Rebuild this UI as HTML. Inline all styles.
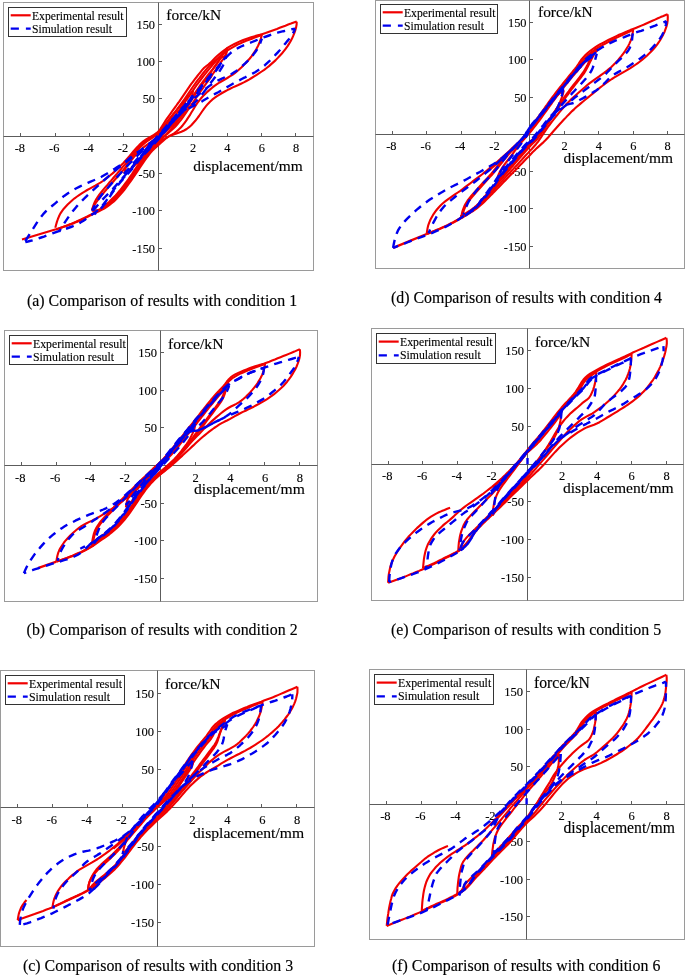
<!DOCTYPE html>
<html lang="en"><head><meta charset="utf-8"><title>Comparison of results</title>
<style>html,body{margin:0;padding:0;background:#fff}svg{display:block;will-change:transform}</style></head>
<body>
<svg width="685" height="975" viewBox="0 0 685 975" font-family="'Liberation Serif', 'Times New Roman', serif">
<rect width="685" height="975" fill="#fff"/>
<g id="panel-a">
<clipPath id="cpa"><rect x="3.5" y="2.5" width="310" height="268"/></clipPath>
<g fill="none" stroke="#5c5c5c" stroke-width="1">
<rect x="3.5" y="2.5" width="310" height="268" stroke="#9a9a9a"/>
<path d="M3.5 136.5H313.5M158.5 2.5V270.5"/>
<path d="M20.5 136.5v-3.5M55.5 136.5v-3.5M89.5 136.5v-3.5M123.5 136.5v-3.5M192.5 136.5v-3.5M227.5 136.5v-3.5M261.5 136.5v-3.5M295.5 136.5v-3.5M158.5 248.5h3.5M158.5 210.5h3.5M158.5 173.5h3.5M158.5 98.5h3.5M158.5 61.5h3.5M158.5 24.5h3.5"/>
</g>
<g font-size="12.36" fill="#000" stroke="#000" stroke-width="0.12">
<text x="19.8" y="152.2" text-anchor="middle">-8</text>
<text x="54.2" y="152.2" text-anchor="middle">-6</text>
<text x="88.6" y="152.2" text-anchor="middle">-4</text>
<text x="123" y="152.2" text-anchor="middle">-2</text>
<text x="193" y="152.2" text-anchor="middle">2</text>
<text x="227.4" y="152.2" text-anchor="middle">4</text>
<text x="261.8" y="152.2" text-anchor="middle">6</text>
<text x="296.2" y="152.2" text-anchor="middle">8</text>
<text x="155" y="252.5" text-anchor="end">-150</text>
<text x="155" y="215.2" text-anchor="end">-100</text>
<text x="155" y="177.9" text-anchor="end">-50</text>
<text x="155" y="103.3" text-anchor="end">50</text>
<text x="155" y="66" text-anchor="end">100</text>
<text x="155" y="28.7" text-anchor="end">150</text>
</g>
<g font-size="15.42" fill="#000" stroke="#000" stroke-width="0.15">
<text x="166.3" y="20.2">force/kN</text>
<text x="193.2" y="171.3">displacement/mm</text>
</g>
<g clip-path="url(#cpa)" fill="none" stroke-linejoin="round" stroke-linecap="butt">
<path d="M22 239.5L38.5 234.5L56 229.2" stroke="#f00000" stroke-width="2.2"/>
<path d="M55.3 227.7L56.1 224.8L56.9 221.9L57.9 219L59 216.3L60.3 213.6L62 211.1L63.8 208.7L65.8 206.5L67.9 204.3L70.1 202.2L72.3 200.2L74.6 198.3L77.1 196.5L79.5 194.8L82.1 193.1L84.6 191.6L87.2 190L89.8 188.6L92.5 187.1L95.2 185.7L97.8 184.2L100.4 182.7L102.9 181L105.3 179.2L107.6 177.4L110 175.5L112.3 173.6L114.6 171.6L116.8 169.5L119 167.4L121.1 165.3L123.2 163.2L125.2 160.9L127.2 158.7L129.2 156.4L131.1 154.1L133.1 151.8L135.1 149.5L137.1 147.3L139.2 145.1L141.3 143L143.6 141.1L146.1 139.4L148.7 137.8L151.3 136.3L153.9 134.8L156.4 133.2L158.6 131.3L160.4 128.9L162 126.4L163.6 123.8L165.2 121.2L166.9 118.7L168.6 116.3L170.4 113.8L172.1 111.4L173.9 108.9L175.7 106.5L177.4 104L179.2 101.6L180.9 99.1L182.6 96.6L184.3 94.1L186 91.7L187.7 89.2L189.4 86.7L191.1 84.2L192.9 81.8L194.7 79.4L196.6 77L198.4 74.6L200.3 72.3L202.2 69.9L204.2 67.7L206.3 66L208.6 64.4L210.8 62.4L212.9 60.2L215 58.1L217.1 56L219.4 54L221.8 52.1L224.1 50.3L226.6 48.5L229.1 46.9L231.7 45.4L234.4 44L237.1 42.7L239.8 41.4L242.6 40.3L245.4 39.2L248.3 38.2L251.1 37.3L254 36.4L256.9 35.6L259.8 34.8L262.7 33.9L265.6 33L268.4 32L271.2 31L274.1 29.9L276.9 28.9L279.7 27.8L282.5 26.7L285.4 25.7L288.2 24.6L291 23.6L293.8 22.5L296.7 21.6" stroke="#f00000" stroke-width="2.1"/>
<path d="M296.7 21.6L296.6 24.5L296.1 27.4L295.3 30.3L294.3 33.1L293.2 35.9L292 38.6L290.6 41.3L289 43.9L287.4 46.4L285.6 48.8L283.8 51.2L281.9 53.5L279.8 55.7L277.8 57.9L275.7 60.1L273.5 62.1L271.2 64.1L269 66.1L266.6 68L264.2 69.8L261.7 71.5L259.2 73.2L256.7 74.8L254.2 76.4L251.6 78L249 79.6L246.4 81L243.8 82.4L241 83.7L238.3 85L235.5 86.2L232.8 87.4L230.1 88.7L227.4 90.1L224.8 91.5L222.1 93L219.5 94.6L217 96.2L214.5 97.9L212.2 99.7L210 101.8L207.9 103.9L206 106.2L204.1 108.6L202.4 111L200.7 113.5L199 116L197.2 118.4L195.3 120.8L193.3 123L191.3 125.2L189.1 127.2L186.7 129L184.1 130.5L181.4 131.8L178.6 132.8L175.8 133.8L172.9 134.7L170.1 135.7L167.6 137.1L165.2 138.9L163 140.9L160.7 142.9L158.5 144.9L156.3 146.9L154.1 149L152 151.1L150 153.4L148.2 155.8L146.4 158.2L144.6 160.6L142.9 163.1L141.2 165.6L139.5 168.1L137.9 170.6L136.2 173.1L134.5 175.6L132.8 178.1L131.1 180.6L129.4 183L127.6 185.5L125.8 187.9L124 190.3L122.1 192.6L120.1 194.9L118.1 197.1L116.1 199.3L113.9 201.4L111.6 203.3L109.2 205.2L106.8 206.9L104.2 208.5L101.6 209.9L98.9 211.2L96.2 212.6L93.4 213.9L90.7 215.2L88.1 216.6L85.4 217.9L82.7 219.3L80 220.5L77.2 221.7L74.4 222.9L71.6 224L68.8 225.1L66 226.1L63.1 227.1L60.3 228.1L57.4 229L56 229.5" stroke="#f00000" stroke-width="2.1"/>
<path d="M130.9 155.7L132.9 153.4L134.8 151.2L136.8 148.9L138.9 146.7L141 144.6L143.3 142.6L145.7 140.8L148.2 139.1L150.8 137.6L153.5 136.2L156.2 134.8L158.9 133.4L161.3 131.8L163.4 129.8L165.1 127.3L166.6 124.7L168.2 122.2L169.9 119.6L171.6 117.1L173.3 114.7L175.1 112.2L176.9 109.8L178.6 107.3L180.4 104.9L182.2 102.4L183.9 100L185.6 97.5L187.3 95L189 92.5L190.7 90L192.4 87.5L194.2 85L195.9 82.6L197.7 80.2L199.6 77.8L201.4 75.4L203.3 73L205.2 70.6L207.1 68.3L209.1 66.1L211.3 64L213.5 62L215.8 60L218.1 58L220.4 56.1L222.7 54.1L225 52.2L227.5 50.4L230 48.8L232.6 47.3L235.3 45.8L238 44.4L240.7 43.2L243.4 41.9L246.2 40.8L249.1 39.7L251.9 38.7L254.7 37.6L257.6 36.6L260.4 35.6L261.9 35.1" stroke="#f00000" stroke-width="2.1"/>
<path d="M261.9 34.7L261.1 37.6L260.3 40.5L259.2 43.3L258 46L256.6 48.6L255.1 51.2L253.4 53.7L251.7 56.1L249.8 58.5L247.8 60.7L245.8 63L243.7 65.1L241.6 67.2L239.4 69.2L237.1 71.2L234.8 73.1L232.4 74.8L229.8 76.4L227.3 78L224.7 79.5L222.1 81L219.5 82.5L217 84.2L214.5 85.9L212.2 87.7L209.9 89.6L207.6 91.6L205.4 93.7L203.3 95.8L201.3 98L199.4 100.3L197.6 102.7L195.9 105.2L194.3 107.7L192.8 110.3L191.2 112.8L189.7 115.4L188 117.9L186.4 120.4L184.6 122.8L182.8 125.2L180.8 127.5L178.7 129.6L176.4 131.5L174.1 133.3L171.5 134.9L168.9 136.4L166.3 137.8L163.7 139.3L161.2 140.9L158.8 142.6L156.5 144.6L154.4 146.7L152.3 148.9L150.4 151.1L148.5 153.5L146.7 155.9L144.9 158.3L143.2 160.8L141.5 163.2L139.9 165.7L138.2 168.2L136.5 170.7L134.9 173.2L133.2 175.7L131.5 178.2L129.8 180.6L128 183.1L126.2 185.5L124.4 187.9L122.5 190.2L120.6 192.5L118.7 194.8L116.7 197.1L114.6 199.2L112.5 201.3L110.2 203.3L107.9 205.2L105.5 206.9L102.9 208.5L100.3 209.9L97.6 211.3L94.9 212.6L92.2 213.9L89.6 215.3L86.9 216.6L84.2 218L81.5 219.3L78.8 220.5L76 221.8L73.3 222.9L70.5 224.1L67.7 225.2L64.9 226.2L62.1 227.2L59.3 228.2L56.4 229.2" stroke="#f00000" stroke-width="2.1"/>
<path d="M91.9 210.4L92.7 207.5L93.7 204.7L94.8 201.9L96.2 199.3L97.8 196.8L99.5 194.3L101.4 192L103.3 189.7L105.2 187.4L107.2 185.1L109.1 182.8L111.1 180.6L113 178.3L115 176L117 173.7L118.9 171.4L120.9 169.2L122.8 166.9L124.8 164.6L126.7 162.3L128.6 160L130.5 157.7L132.4 155.3L134.3 153L136.3 150.8L138.4 148.6L140.5 146.6L142.8 144.6L145.1 142.7L147.5 141L150 139.3L152.5 137.6L155 135.9L157.4 134.2L159.7 132.2L161.9 130.2L164 128.1L166.1 125.9L168.2 123.8L170.3 121.6L172.3 119.4L174.1 117.1L175.9 114.7L177.7 112.2L179.5 109.8L181.2 107.4L183 104.9L184.7 102.5L186.4 100L188.1 97.6L189.8 95.1L191.5 92.6L193.2 90.1L194.9 87.7L196.6 85.2L198.4 82.8L200.2 80.4L202 78L203.8 75.6L205.7 73.3L207.6 70.9L209.5 68.6L211.4 66.3L213.3 64L215.3 61.8L217.3 59.5L219.3 57.3L221.3 55L223.3 52.8L225.3 50.5L227.3 48.3" stroke="#f00000" stroke-width="2.1"/>
<path d="M227.3 48.3L226.7 51.2L226 54L225 56.5L223.6 58.6L222 60.6L220.4 62.9L218.7 65.4L217.1 67.9L215.4 70.3L213.6 72.8L212 75.3L210.3 77.8L208.6 80.3L206.8 82.7L205 85.2L203.3 87.6L201.5 90L199.8 92.5L198.1 95L196.4 97.5L194.7 100L193 102.5L191.3 104.9L189.6 107.4L187.9 109.9L186.2 112.4L184.5 114.9L182.8 117.4L181 119.8L179.1 122.2L177.2 124.5L175.2 126.7L173.1 128.8L170.8 130.8L168.5 132.8L166.2 134.6L163.7 136.4L161.3 138.2L159 140.1L156.9 142.2L154.8 144.4L152.8 146.6L150.9 149L149.1 151.3L147.3 153.7L145.5 156.1L143.7 158.6L142 161.1L140.3 163.6L138.6 166L136.9 168.5L135.2 171L133.6 173.5L131.9 176L130.2 178.5L128.4 181L126.6 183.4L124.8 185.8L123 188.2L121.1 190.6L119.2 192.9L117.2 195.1L115.2 197.3L113 199.4L110.8 201.5L108.6 203.6L106.4 205.6L104 207.4L101.6 209.1L98.9 210.3L96.2 210.8L93.3 210.6L91.9 210.4" stroke="#f00000" stroke-width="2.1"/>
<path d="M91.9 210.4L93.1 207.7L94.5 205L96.1 202.5L97.8 200.1L99.7 197.7L101.5 195.3L103.5 193L105.4 190.7L107.4 188.4L109.3 186.1L111.3 183.8L113.3 181.5L115.2 179.3L117.2 177L119.2 174.7L121.1 172.4L123.1 170.1L125 167.8L127 165.5L128.9 163.2L130.8 160.8L132.7 158.5L134.6 156.2L136.7 153.9L138.8 151.8L140.9 149.7L143.2 147.7L145.6 145.9L148 144.1L150.5 142.4L152.9 140.7L155.2 138.7L157.4 136.7L159.6 134.6L161.8 132.5L164 130.5L166.2 128.4L168.5 126.4L170.7 124.4L172.9 122.4L175.1 120.3L177 118L178.9 115.6L180.7 113.2L182.5 110.8L184.2 108.3L186 105.9L187.7 103.4L189.5 100.9L191.2 98.5L192.9 96L194.6 93.5L196.3 91L198 88.5L199.7 86L201.5 83.6L203.3 81.2L205.1 78.8L206.9 76.4L208.8 74L210.7 71.6L212.6 69.3L214.4 66.9L216.2 64.5L218 62L219.7 59.5L221.3 57L223 54.5L224.7 52L226.4 49.5L227.3 48.3" stroke="#f00000" stroke-width="2.1"/>
<path d="M227.3 48.3L226.7 51.2L226.1 53.9L225.1 55.9L223.9 56.7L222.5 56.9L221 57.8L219.5 59.7L217.8 62.1L216.2 64.6L214.4 67.1L212.7 69.5L211 72L209.4 74.5L207.7 77L205.9 79.4L204.1 81.9L202.4 84.3L200.6 86.7L198.9 89.2L197.2 91.7L195.5 94.2L193.8 96.7L192.1 99.2L190.4 101.6L188.7 104.1L187 106.6L185.3 109.1L183.6 111.6L181.9 114L180.2 116.5L178.3 118.8L176.4 121.1L174.3 123.3L172.2 125.5L170 127.5L167.8 129.6L165.7 131.7L163.5 133.8L161.4 135.9L159.3 138L157.2 140.2L155.2 142.4L153.2 144.7L151.2 147L149.3 149.3L147.5 151.7L145.7 154.1L143.9 156.5L142.2 159L140.5 161.5L138.8 163.9L137.1 166.4L135.4 168.9L133.7 171.4L132.1 173.9L130.4 176.4L128.7 178.9L126.9 181.3L125.1 183.7L123.3 186.1L121.5 188.5L119.6 190.8L117.6 193.1L115.6 195.4L113.5 197.5L111.4 199.6L109.2 201.7L107 203.7L104.7 205.7L102.4 207.6L100 209.3L97.5 210.4L94.7 210.7L91.9 210.4" stroke="#f00000" stroke-width="2.1"/>
<path d="M124.2 173.7L124.9 170.8L125.8 167.9L127 165.1L128.4 162.5L130.1 160L131.8 157.5L133.6 155L135.4 152.6L137.4 150.3L139.3 148L141.4 145.7L143.5 143.6L145.8 141.6L148.1 139.7L150.5 137.8L153 136.1L155.5 134.4L157.9 132.6L160 130.5L162 128.2L163.8 125.8L165.7 123.5L167.6 121.1L169.5 118.7L171.4 116.4L173.3 114L175.3 111.7L177.2 109.3L179.1 107L181.1 104.6L183 102.3L185 100L187 97.7L189 95.4L191 93.2L193 90.9" stroke="#f00000" stroke-width="2.1"/>
<path d="M193 90.9L192.5 93.8L191.9 96.8L191.1 99.7L190 102.4L188.7 105.1L187.2 107.7L185.6 110.3L184 112.8L182.3 115.2L180.5 117.6L178.6 120L176.8 122.4L174.9 124.7L172.9 127L170.9 129.2L168.9 131.5L166.9 133.7L164.8 135.9L162.8 138L160.7 140.2L158.6 142.4L156.5 144.5L154.4 146.7L152.3 148.9L150.2 151L148.1 153.1L145.9 155.2L143.7 157.3L141.5 159.3L139.3 161.3L137 163.3L134.8 165.3L132.5 167.2L130.1 169.1L127.8 170.9L125.4 172.8L124.2 173.7" stroke="#f00000" stroke-width="2.1"/>
<path d="M25.3 241.1L26.9 238.5L28.5 236L30.1 233.4L31.7 230.8L33.3 228.3L34.9 225.8L36.6 223.2L38.3 220.7L40 218.3L41.8 215.9L43.7 213.6L45.8 211.4L47.9 209.3L50.2 207.4L52.6 205.5L54.9 203.6L57.2 201.6L59.5 199.7L61.8 197.8L64.2 195.9L66.6 194.2L69.1 192.5L71.7 190.9L74.3 189.4L76.9 188L79.6 186.6L82.3 185.3L85 184.1L87.8 182.9L90.6 181.7L93.3 180.5L96.1 179.3L98.8 178.1L101.5 176.7L104.1 175.2L106.7 173.7L109.3 172.1L111.8 170.5L114.4 168.9L116.9 167.3L119.4 165.7L122 164.1L124.5 162.4L126.9 160.6L129.2 158.7L131.5 156.8L133.9 154.9L136.3 153.2L138.8 151.4L141.2 149.7L143.7 147.9L146.1 146.1L148.5 144.3L150.9 142.5L153.3 140.6L155.6 138.8L157.9 136.8L160 134.7L162 132.5L164 130.2L165.9 127.9L167.9 125.6L169.9 123.4L171.9 121.1L173.9 118.8L175.9 116.6L177.8 114.3L179.7 112L181.6 109.6L183.5 107.3L185.4 104.9L187.3 102.6L189.3 100.4L191.3 98.1L193.3 95.8L195.3 93.6L197.2 91.3L199.1 88.9L201 86.6L202.9 84.2L204.8 81.9L206.7 79.6L208.7 77.4L210.7 75.1L212.7 72.8L214.7 70.6L216.7 68.3L218.7 66.1L220.6 63.8L222.5 61.4L224.5 59.1L226.5 56.9L228.6 54.8L230.8 52.8L233.2 50.9L235.7 49.3L238.3 47.9L241 46.5L243.7 45.3L246.5 44.2L249.3 43.1L252.1 42L254.9 40.9L257.7 39.7L260.5 38.6L263.3 37.5L266.2 36.5L269 35.5L271.8 34.5L274.7 33.6L277.6 32.7L280.5 31.9L283.4 31.2L286.3 30.6L289.3 29.9L292.2 29.2L295.1 28.6" stroke="#0000ee" stroke-width="2.4" stroke-dasharray="8.2 6.3"/>
<path d="M295.1 28.6L294 31.3L292.7 34L291.1 36.5L289.3 38.8L287.3 41.1L285.4 43.4L283.5 45.7L281.6 48.1L279.7 50.3L277.6 52.6L275.6 54.7L273.5 56.9L271.4 59L269.3 61.2L267.1 63.2L264.9 65.2L262.5 67.1L260.1 68.9L257.7 70.6L255.1 72.2L252.5 73.6L249.8 75L247.1 76.3L244.4 77.7L241.7 79L239.1 80.4L236.4 81.8L233.8 83.2L231.2 84.7L228.6 86.2L226 87.7L223.4 89.2L220.8 90.7L218.2 92.2L215.5 93.6L212.9 95L210.2 96.5L207.6 98L205 99.5L202.5 101.1L199.9 102.6L197.2 104L194.5 105.3L191.9 106.7L189.2 108.1L186.5 109.5L184 111L181.6 112.8L179.3 114.7L177.1 116.7L174.9 118.8L172.8 120.9L170.7 123.1L168.8 125.4L166.8 127.7L164.9 130L162.9 132.2L161 134.5L159 136.8L157 139L155 141.3L153 143.5L151 145.8L149 148L147 150.3L145 152.5L143 154.8L141 157L139.1 159.3L137.2 161.6L135.3 164L133.4 166.3L131.5 168.6L129.6 170.9L127.6 173.2L125.6 175.5L123.6 177.7L121.7 180L119.7 182.2L117.7 184.5L115.9 186.8L114.1 189.3L112.4 191.7L110.7 194.2L109 196.7L107.3 199.2L105.6 201.6L103.7 204L101.8 206.3L99.7 208.5L97.5 210.5L95.2 212.4L92.8 214.1L90.3 215.8L87.9 217.6L85.4 219.4L83 221L80.4 222.6L77.8 224L75.1 225.3L72.3 226.5L69.5 227.5L66.7 228.5L63.8 229.5L61 230.5L58.1 231.4L55.3 232.4L52.5 233.4L49.7 234.5L46.8 235.5L44 236.6L41.2 237.5L38.3 238.5L35.5 239.4L32.6 240.3L29.7 241L26.8 241.8L25.3 242.2" stroke="#0000ee" stroke-width="2.4" stroke-dasharray="8.2 6.3" stroke-dashoffset="3"/>
<path d="M59.3 231.6L60.7 229L62.3 226.4L63.9 223.9L65.5 221.4L67.2 218.9L68.9 216.4L70.7 214L72.5 211.6L74.4 209.2L76.3 206.9L78.3 204.7L80.3 202.5L82.4 200.3L84.6 198.2L86.7 196.1L88.9 194L91.1 192L93.4 189.9L95.6 187.9L97.8 185.9L100 183.9L102.3 181.9L104.5 179.9L106.8 177.9L109 175.9L111.3 173.9L113.6 171.9L115.9 170L118.2 168.1L120.6 166.3L123 164.5L125.4 162.6L127.8 160.8L130.2 159L132.6 157.2L135 155.4L137.4 153.5L139.8 151.7L142.1 149.8L144.5 148L146.9 146.2L149.3 144.4L151.7 142.6L154.1 140.7L156.4 138.8L158.7 136.8L160.8 134.7L162.8 132.5L164.7 130.2L166.7 127.9L168.6 125.6L170.6 123.4L172.6 121.1L174.6 118.8L176.6 116.6L178.5 114.3L180.4 111.9L182.3 109.6L184.2 107.3L186.1 104.9L188.1 102.6L190 100.4L192 98.1L194 95.8L196 93.6L197.9 91.3L199.8 88.9L201.7 86.6L203.6 84.2L205.4 81.9" stroke="#0000ee" stroke-width="2.4" stroke-dasharray="8.2 6.3" stroke-dashoffset="5"/>
<path d="M261.9 38.6L260.8 41.5L259.8 44.3L258.5 46.9L257 49.5L255.3 52L253.5 54.4L251.6 56.7L249.6 58.9L247.5 61.1L245.4 63.2L243.2 65.2L240.9 67.2L238.6 69.1L236.3 71L233.8 72.6L231.2 74.2L228.6 75.6L225.9 76.8L223.1 78L220.4 79.3L217.7 80.6L215.1 82.1L212.6 83.7L210.1 85.4L207.7 87.3L205.4 89.1L203 91L200.7 92.9L198.4 94.8L196.1 96.7L193.8 98.7L191.6 100.7L189.4 102.8L187.5 105L185.6 107.4L183.9 109.8L182.1 112.2L180.1 114.4L178 116.5L175.9 118.6L173.7 120.7L171.7 122.9L169.7 125.2L167.7 127.4L165.8 129.7L163.8 132L161.9 134.3L159.9 136.6L158 138.8L156 141.1L154 143.3L152 145.5L150 147.8L148 150L146 152.3L144 154.5L142 156.8L140 159L138.1 161.3L136.2 163.7L134.4 166L132.5 168.4L130.6 170.7L128.6 172.9L126.6 175.2L124.6 177.4L122.6 179.7L120.6 181.9L118.7 184.2L116.8 186.5L115 188.9L113.3 191.4L111.6 193.9L110 196.4L108.3 198.9L106.6 201.4L104.9 203.8L103 206.1L101 208.4L98.9 210.5L96.6 212.5L94.3 214.3" stroke="#0000ee" stroke-width="2.4" stroke-dasharray="8.2 6.3" stroke-dashoffset="3"/>
<path d="M92.1 210.8L93.4 208.1L94.8 205.4L96.3 202.8L97.8 200.2L99.5 197.7L101.3 195.3L103.3 193L105.2 190.7L107.2 188.5L109.2 186.2L111.2 183.9L113.2 181.6L115.2 179.4L117.1 177.1L119.1 174.8L121.1 172.6L123.2 170.3L125.2 168.1L127.3 165.9L129.4 163.7L131.5 161.6L133.6 159.4L135.8 157.3L137.9 155.2L140.2 153.2L142.4 151.2L144.7 149.2L147 147.3L149.4 145.4L151.7 143.4L154 141.5L156.4 139.6L158.6 137.6L160.8 135.5L162.8 133.3L164.8 131L166.7 128.7L168.7 126.4L170.7 124.2L172.7 121.9L174.7 119.6L176.7 117.3L178.6 115L180.5 112.7L182.4 110.4L184.3 108L186.2 105.7L188.2 103.4L190.1 101.1L192.1 98.8L194.1 96.6L196.1 94.3L198 91.9L199.9 89.6L201.8 87.2L203.7 84.9L205.7 82.6L207.6 80.3L209.6 78L211.6 75.7L213.6 73.5L215.6 71.2L217.5 68.9L219.3 66.5L221 64L222.6 61.4L224.3 59L226.2 56.6" stroke="#0000ee" stroke-width="2.4" stroke-dasharray="8.2 6.3" stroke-dashoffset="2"/>
<path d="M226.2 56.6L225.4 59.5L224.5 62.3L223.2 65.1L221.8 67.7L220.2 70.2L218.4 72.7L216.6 75.1L214.8 77.5L213 79.9L211.1 82.3L209.3 84.7L207.5 87.1L205.7 89.6L203.9 92L202 94.4L200.2 96.7L198.2 99L196.1 101.2L194 103.3L191.7 105.2L189.3 107L186.7 108.6L184.2 110.2L181.7 111.9L179.4 113.8L177.2 115.8L175 117.9L172.8 120L170.8 122.3L168.8 124.5L166.8 126.8L164.9 129.1L162.9 131.4L160.9 133.7L159 136L157 138.2L155 140.5L153 142.8L150.9 145L148.9 147.3L146.9 149.5L144.9 151.8L142.9 154L140.9 156.3L139 158.6L137.1 160.9L135.2 163.3L133.3 165.6L131.4 168L129.4 170.3L127.4 172.6L125.5 174.8L123.4 177.1L121.4 179.4L119.4 181.6L117.4 183.9L115.4 186.1L113.4 188.4L111.4 190.6L109.3 192.8L107.1 194.9L105 197L102.9 199.2L100.8 201.3L98.8 203.6L97 205.9L95.2 208.2L93.2 210.3L92.1 211.3" stroke="#0000ee" stroke-width="2.4" stroke-dasharray="8.2 6.3" stroke-dashoffset="6"/>
<path d="M124.2 173.7L126.2 171.4L128.2 169.2L130.2 166.9L132.2 164.7L134.2 162.4L136.2 160.1L138.2 157.9L140.2 155.6L142.2 153.4L144.3 151.1L146.3 148.8L148.3 146.6L150.3 144.3L152.3 142L154.3 139.8L156.3 137.5L158.3 135.3L160.3 133L162.3 130.7L164.3 128.5L166.3 126.2L168.3 124L170.3 121.7L172.3 119.4L174.3 117.2L176.3 114.9L178.3 112.6L180.2 110.3L182.2 108L184.2 105.7L186.1 103.4L188.1 101.1L190.1 98.8L192 96.5L193 95.4" stroke="#0000ee" stroke-width="2.4" stroke-dasharray="8.2 6.3" stroke-dashoffset="1"/>
<path d="M193 95.4L191.2 97.8L189.4 100.2L187.6 102.7L185.8 105.1L184 107.5L182.2 109.9L180.3 112.4L178.5 114.8L176.7 117.2L174.8 119.6L172.9 122L171 124.3L169.1 126.6L167.2 129L165.2 131.3L163.3 133.7L161.4 136L159.4 138.3L157.4 140.5L155.3 142.8L153.3 144.9L151.2 147.1L149.1 149.3L147 151.5L144.9 153.7L142.7 155.8L140.6 158L138.4 160.1L136.2 162.2L134.1 164.3L131.9 166.4L129.7 168.5L127.5 170.6L125.3 172.7L124.2 173.7" stroke="#0000ee" stroke-width="2.4" stroke-dasharray="8.2 6.3" stroke-dashoffset="4"/>
</g>
<rect x="8.5" y="7.5" width="118" height="29" fill="#fff" stroke="#333" stroke-width="1"/>
<path d="M10.7 15.3h20" stroke="#f00000" stroke-width="2.2" fill="none"/>
<path d="M10.7 28.7h20" stroke="#0000ee" stroke-width="2.3" stroke-dasharray="8.2 7" fill="none"/>
<g font-size="11.66" fill="#000" stroke="#000" stroke-width="0.12">
<text x="32" y="19.6">Experimental result</text>
<text x="32" y="32.7">Simulation result</text>
</g>
<text x="27" y="305.6" font-size="15.9" fill="#000" stroke="#000" stroke-width="0.15">(a) Comparison of results with condition 1</text>
</g>
<g id="panel-b">
<clipPath id="cpb"><rect x="4.5" y="330.5" width="313" height="271"/></clipPath>
<g fill="none" stroke="#5c5c5c" stroke-width="1">
<rect x="4.5" y="330.5" width="313" height="271" stroke="#9a9a9a"/>
<path d="M4.5 465.5H317.5M160.5 330.5V601.5"/>
<path d="M21.5 465.5v-3.5M56.5 465.5v-3.5M90.5 465.5v-3.5M125.5 465.5v-3.5M195.5 465.5v-3.5M229.5 465.5v-3.5M264.5 465.5v-3.5M299.5 465.5v-3.5M160.5 578.5h3.5M160.5 540.5h3.5M160.5 503.5h3.5M160.5 427.5h3.5M160.5 390.5h3.5M160.5 352.5h3.5"/>
</g>
<g font-size="12.50" fill="#000" stroke="#000" stroke-width="0.12">
<text x="20.3" y="481.6" text-anchor="middle">-8</text>
<text x="55.1" y="481.6" text-anchor="middle">-6</text>
<text x="89.9" y="481.6" text-anchor="middle">-4</text>
<text x="124.7" y="481.6" text-anchor="middle">-2</text>
<text x="195.5" y="481.6" text-anchor="middle">2</text>
<text x="230.3" y="481.6" text-anchor="middle">4</text>
<text x="265.1" y="481.6" text-anchor="middle">6</text>
<text x="299.9" y="481.6" text-anchor="middle">8</text>
<text x="157.1" y="583.1" text-anchor="end">-150</text>
<text x="157.1" y="545.4" text-anchor="end">-100</text>
<text x="157.1" y="507.7" text-anchor="end">-50</text>
<text x="157.1" y="432.3" text-anchor="end">50</text>
<text x="157.1" y="394.6" text-anchor="end">100</text>
<text x="157.1" y="356.9" text-anchor="end">150</text>
</g>
<g font-size="15.60" fill="#000" stroke="#000" stroke-width="0.15">
<text x="168" y="349">force/kN</text>
<text x="194" y="494">displacement/mm</text>
</g>
<g clip-path="url(#cpb)" fill="none" stroke-linejoin="round" stroke-linecap="butt">
<path d="M37.9 568.1L47.1 564.9L56.4 561.6" stroke="#f00000" stroke-width="2.2"/>
<path d="M56.4 561.6L56.8 558.7L57.4 555.7L58.2 552.9L59.3 550.1L60.7 547.5L62.3 545L64 542.5L65.9 540.2L67.9 538L70 535.8L72.1 533.7L74.3 531.7L76.6 529.8L79 527.9L81.4 526.1L83.9 524.6L86.6 523.2L89.3 521.9L92 520.7L94.7 519.3L97.3 517.8L99.9 516.3L102.4 514.8L105 513.2L107.5 511.6L110.1 510L112.6 508.4L115.1 506.7L117.5 504.9L119.9 503.1L122.3 501.3L124.6 499.4L126.9 497.5L129.1 495.5L131.3 493.4L133.4 491.3L135.5 489.1L137.6 487L139.8 484.9L141.9 482.8L144 480.7L146.1 478.5L148.3 476.4L150.4 474.3L152.4 472.1L154.5 469.9L156.5 467.6L158.4 465.4L160.4 463.1L162.3 460.8L164.2 458.5L166.1 456.1L168 453.8L169.9 451.5L171.8 449.1L173.6 446.8L175.5 444.4L177.4 442.1L179.3 439.8L181.1 437.4L183 435.1L184.9 432.7L186.8 430.4L188.6 428L190.5 425.7L192.4 423.3L194.3 421L196.1 418.6L198 416.3L199.8 413.9L201.6 411.5L203.5 409.2L205.3 406.8L207.2 404.5L209.1 402.1L211 399.8L213 397.5L214.9 395.3L216.9 393L219 390.8L221 388.6L223.1 386.4L225 384.2L226.8 381.8L228.6 379.5L230.7 377.4L233.1 375.7L235.6 374.2L238.3 372.9L241.1 371.7L243.8 370.5L246.6 369.4L249.4 368.3L252.2 367.2L255.1 366.3L257.9 365.4L260.8 364.6L263.7 363.7L266.5 362.7L269.3 361.7L272.1 360.6L274.9 359.5L277.7 358.3L280.5 357.2L283.3 356.1L286.1 355L288.8 353.9L291.6 352.7L294.4 351.6L297.1 350.4L299.9 349.2" stroke="#f00000" stroke-width="2.1"/>
<path d="M299.9 349.2L300.1 352.2L300 355.1L299.5 358L298.7 360.9L297.7 363.7L296.6 366.5L295.3 369.2L293.8 371.8L292.3 374.4L290.7 376.9L288.9 379.3L287.1 381.7L285.1 384L283.1 386.2L280.9 388.3L278.7 390.3L276.4 392.2L274.1 394.1L271.7 395.9L269.2 397.6L266.7 399.3L264.2 400.9L261.6 402.4L259 403.9L256.3 405.3L253.7 406.7L251 408L248.3 409.4L245.6 410.7L242.9 411.9L240.2 413.3L237.5 414.7L234.9 416.1L232.3 417.6L229.7 419.1L227 420.5L224.3 421.8L221.7 423.2L219.1 424.7L216.6 426.4L214.1 428L211.6 429.8L209.2 431.6L206.9 433.5L204.6 435.4L202.3 437.3L200 439.3L197.8 441.3L195.6 443.3L193.4 445.4L191.2 447.4L189 449.5L186.8 451.5L184.6 453.5L182.4 455.6L180.1 457.6L177.9 459.6L175.7 461.6L173.4 463.6L171.2 465.6L168.9 467.6L166.6 469.5L164.3 471.3L161.9 473.2L159.5 475L157.3 477L155.1 479.1L153 481.2L151 483.4L149 485.7L147 488L145.2 490.3L143.5 492.8L141.8 495.2L140.1 497.7L138.4 500.2L136.8 502.7L135.1 505.2L133.4 507.7L131.7 510.2L130 512.6L128.2 515.1L126.4 517.4L124.5 519.8L122.5 522L120.5 524.2L118.4 526.4L116.3 528.5L114 530.5L111.7 532.4L109.4 534.3L107 536.1L104.5 537.8L102.1 539.5L99.6 541.2L97.2 543L94.7 544.7L92.3 546.4L89.7 547.9L87.1 549.4L84.4 550.8L81.7 552.1L79 553.3L76.2 554.5L73.4 555.7L70.6 556.8L67.8 557.8L65 558.8L62.1 559.8L59.3 560.7L56.4 561.6" stroke="#f00000" stroke-width="2.1"/>
<path d="M127.3 499L129.4 496.8L131.6 494.7L133.7 492.6L135.9 490.4L138 488.3L140.1 486.1L142.3 484L144.4 481.9L146.5 479.7L148.7 477.6L150.8 475.5L152.9 473.3L154.9 471.1L156.9 468.8L158.9 466.5L160.9 464.2L162.8 461.9L164.7 459.6L166.6 457.2L168.5 454.9L170.4 452.6L172.3 450.2L174.2 447.8L176.1 445.5L178 443.1L179.8 440.8L181.7 438.4L183.6 436.1L185.5 433.7L187.4 431.3L189.3 429L191.2 426.6L193 424.3L194.9 421.9L196.8 419.5L198.7 417.2L200.5 414.8L202.4 412.4L204.2 410L206.1 407.6L207.9 405.3L209.9 402.9L211.8 400.6L213.7 398.3L215.7 396L217.7 393.8L219.8 391.6L221.9 389.4L223.9 387.2L225.9 384.9L227.8 382.6L229.8 380.4L232 378.4L234.5 376.8L237.1 375.3L239.8 373.9L242.5 372.7L245.3 371.5L248.1 370.3L250.9 369.2L253.7 368.1L256.6 367.1L259.4 366.1L262.2 365.1L265.1 364.1" stroke="#f00000" stroke-width="2.1"/>
<path d="M265.1 363.6L264.6 366.6L264 369.5L263.1 372.4L262 375.1L260.7 377.8L259.2 380.4L257.6 383L255.9 385.5L254 387.8L252.1 390.1L250.1 392.4L248 394.6L245.9 396.7L243.6 398.7L241.3 400.6L238.9 402.4L236.3 403.9L233.6 405.2L230.9 406.5L228.3 408L225.8 409.6L223.4 411.4L221 413.3L218.7 415.2L216.4 417.1L214.2 419.1L211.9 421.1L209.7 423.2L207.6 425.3L205.4 427.4L203.3 429.6L201.2 431.7L199.1 433.9L197 436.1L194.9 438.3L192.9 440.4L190.8 442.6L188.7 444.8L186.7 447L184.6 449.2L182.5 451.4L180.4 453.6L178.3 455.7L176.2 457.8L174 459.9L171.8 462L169.6 464L167.3 466.1L165.1 468.1L162.9 470.1L160.7 472.2L158.5 474.3L156.3 476.3L154.1 478.4L152 480.6L150 482.8L148 485.1L146.1 487.4L144.3 489.8L142.6 492.3L140.9 494.8L139.2 497.3L137.5 499.8L135.8 502.3L134.1 504.8L132.5 507.3L130.7 509.7L128.9 512.2L127.1 514.6L125.3 517L123.3 519.3L121.3 521.5L119.3 523.7L117.2 525.9L115.1 528L112.8 530L110.5 531.9L108.1 533.7L105.7 535.6L103.3 537.4L100.9 539.2L98.5 541.1L96.2 543L93.8 544.8L91.3 546.4L88.7 548L86.1 549.4L83.4 550.8L80.7 552.1L77.9 553.3L75.1 554.5L72.4 555.7L69.6 556.8L66.8 557.9L63.9 559L61.1 560L58.3 561.1L56.9 561.6" stroke="#f00000" stroke-width="2.1"/>
<path d="M91.7 545.4L92.1 542.4L92.6 539.4L93.2 536.5L93.9 533.6L94.9 530.8L96.2 528.1L97.8 525.5L99.5 523L101.3 520.7L103.3 518.4L105.3 516.1L107.3 513.9L109.4 511.7L111.6 509.6L113.7 507.5L115.8 505.3L118 503.2L120.1 501.1L122.2 498.9L124.4 496.8L126.5 494.7L128.6 492.5L130.8 490.4L132.9 488.3L135 486.1L137.2 484L139.3 481.9L141.5 479.8L143.6 477.7L145.9 475.7L148.1 473.7L150.4 471.7L152.6 469.6L154.8 467.5L156.9 465.4L159.1 463.3L161.4 461.3L163.7 459.4L166.1 457.6L168.4 455.7L170.5 453.6L172.6 451.4L174.5 449L176.4 446.7L178.2 444.3L180.1 442L182 439.6L183.9 437.3L185.8 434.9L187.7 432.5L189.6 430.2L191.4 427.8L193.3 425.5L195.2 423.1L197.1 420.7L198.9 418.4L200.8 416L202.6 413.6L204.5 411.2L206.3 408.8L208.2 406.5L210.1 404.1L212.1 401.8L214 399.5L215.9 397.2L217.9 394.9L219.8 392.6L221.6 390.2L223.4 387.8L225.2 385.3L227 382.9L228 381.7" stroke="#f00000" stroke-width="2.1"/>
<path d="M228 381.7L227.2 384.6L226.5 387.6L225.8 390.5L224.9 393.3L223.9 396.1L222.7 398.8L221.2 401.4L219.5 403.9L217.7 406.3L215.9 408.7L214.1 411.1L212.3 413.5L210.5 415.9L208.7 418.3L206.9 420.7L205.1 423.1L203.3 425.5L201.5 427.9L199.7 430.3L197.9 432.7L196.1 435.1L194.3 437.5L192.5 439.9L190.7 442.3L188.8 444.7L187 447L185.1 449.3L183.1 451.6L181.1 453.9L179.1 456L177 458.2L174.8 460.3L172.7 462.4L170.5 464.5L168.3 466.5L166.1 468.5L163.8 470.4L161.5 472.3L159.2 474.3L157 476.3L154.8 478.3L152.6 480.4L150.5 482.6L148.5 484.8L146.6 487.1L144.7 489.5L142.9 491.9L141.2 494.3L139.4 496.7L137.7 499.2L136 501.7L134.3 504.2L132.6 506.6L130.9 509.1L129.1 511.5L127.3 513.9L125.5 516.3L123.5 518.5L121.5 520.8L119.5 523L117.4 525.1L115.2 527.2L112.9 529.1L110.6 531L108.2 532.8L105.8 534.6L103.3 536.3L100.8 537.9L98.3 539.5L95.9 541.2L93.7 543.2L91.7 545.4" stroke="#f00000" stroke-width="2.1"/>
<path d="M92.5 546.6L92.9 543.6L93.3 540.6L93.9 537.7L94.7 534.8L95.7 532L97 529.3L98.5 526.7L100.2 524.2L102.1 521.9L104 519.6L106 517.3L108.1 515.1L110.2 512.9L112.3 510.8L114.4 508.7L116.6 506.5L118.7 504.4L120.8 502.3L123 500.1L125.1 498L127.2 495.9L129.4 493.7L131.5 491.6L133.6 489.5L135.8 487.3L137.9 485.2L140.1 483.1L142.2 481L144.4 478.9L146.6 476.9L148.9 474.9L151.1 472.9L153.4 470.8L155.5 468.7L157.7 466.6L159.9 464.5L162.1 462.5L164.5 460.6L166.8 458.8L169.1 456.9L171.3 454.8L173.3 452.6L175.2 450.2L177.1 447.9L179 445.5L180.9 443.2L182.8 440.8L184.6 438.5L186.5 436.1L188.4 433.7L190.3 431.4L192.2 429L194.1 426.7L196 424.3L197.8 421.9L199.7 419.6L201.5 417.2L203.4 414.8L205.2 412.4L207.1 410L209 407.7L210.9 405.3L212.8 403L214.7 400.7L216.7 398.4L218.6 396.1L220.5 393.8L222.4 391.4L224.2 389L226 386.5L227.8 384.1L228.7 382.9" stroke="#f00000" stroke-width="2.1"/>
<path d="M227.2 380.8L226.5 383.7L225.8 386.7L225 389.6L224.1 392.4L223.1 395.2L221.9 397.9L220.4 400.5L218.7 403L216.9 405.4L215.1 407.8L213.3 410.2L211.5 412.6L209.7 415L207.9 417.4L206.1 419.8L204.3 422.2L202.5 424.6L200.7 427L198.9 429.4L197.1 431.8L195.3 434.2L193.5 436.6L191.7 439L189.9 441.4L188.1 443.8L186.2 446.1L184.3 448.4L182.4 450.7L180.4 453L178.3 455.1L176.2 457.3L174.1 459.4L171.9 461.5L169.8 463.6L167.5 465.6L165.3 467.6L163 469.5L160.7 471.4L158.4 473.4L156.2 475.4L154 477.4L151.9 479.5L149.8 481.7L147.8 483.9L145.9 486.2L144 488.6L142.2 491L140.4 493.4L138.7 495.8L137 498.3L135.3 500.8L133.6 503.3L131.9 505.7L130.1 508.2L128.4 510.6L126.5 513L124.7 515.4L122.8 517.6L120.8 519.9L118.7 522.1L116.6 524.2L114.5 526.3L112.2 528.2L109.8 530.1L107.5 531.9L105 533.7L102.6 535.4L100.1 537L97.5 538.6L95.1 540.3L92.9 542.3L91 544.5" stroke="#f00000" stroke-width="2.1"/>
<path d="M125.9 507.3L126.3 504.3L126.9 501.4L127.8 498.6L129.1 495.9L130.6 493.3L132.2 490.7L134 488.3L136 486.1L138.1 483.9L140.2 481.8L142.3 479.6L144.4 477.5L146.5 475.3L148.6 473.1L150.7 471L152.9 468.9L155.1 466.9L157.4 464.9L159.6 462.8L161.8 460.7L163.8 458.5L165.8 456.3L167.8 454L169.8 451.7L171.8 449.5L173.8 447.2L175.8 445L177.8 442.7L179.8 440.4L181.7 438.1L183.6 435.7L185.6 433.4L187.5 431.1L189.5 428.8L191.5 426.6L193.5 424.3L195.5 422.1" stroke="#f00000" stroke-width="2.1"/>
<path d="M195.5 422.1L195.1 425.1L194.6 428L193.7 430.9L192.5 433.6L191.2 436.3L189.8 439L188.3 441.6L186.6 444.1L184.8 446.5L182.9 448.9L181.1 451.3L179.2 453.7L177.4 456.1L175.4 458.5L173.5 460.8L171.6 463.1L169.6 465.4L167.5 467.6L165.3 469.7L163.1 471.8L160.9 473.8L158.7 475.8L156.4 477.8L154.1 479.8L151.9 481.9L149.6 483.9L147.4 486L145.2 488.1L143 490.2L140.9 492.3L138.7 494.4L136.5 496.5L134.3 498.6L132.2 500.7L130.1 502.9L128 505.1L125.9 507.3" stroke="#f00000" stroke-width="2.1"/>
<path d="M23.9 573.2L25.1 570.4L26.3 567.7L27.7 565L29.2 562.5L30.8 559.9L32.5 557.4L34.2 554.9L36 552.5L37.9 550.2L39.8 547.9L41.8 545.6L43.8 543.4L45.9 541.2L48 539.1L50.2 537.1L52.5 535.1L54.9 533.2L57.3 531.4L59.7 529.6L62.2 527.9L64.7 526.3L67.3 524.8L70 523.4L72.7 522.1L75.4 520.7L78.1 519.4L80.8 518.2L83.6 517L86.3 515.8L89.1 514.6L91.9 513.6L94.8 512.6L97.6 511.6L100.5 510.6L103.3 509.5L106 508.3L108.7 506.9L111.3 505.5L113.9 503.9L116.4 502.2L118.8 500.4L121.1 498.5L123.5 496.6L125.8 494.7L128 492.7L130.3 490.7L132.5 488.6L134.6 486.5L136.8 484.4L138.9 482.3L141.1 480.2L143.3 478.2L145.6 476.2L147.8 474.2L150.1 472.2L152.3 470.1L154.5 468.1L156.6 466L158.8 463.9L160.8 461.7L162.8 459.4L164.7 457.1L166.6 454.7L168.4 452.4L170.3 450L172.2 447.6L174.1 445.3L176 442.9L177.9 440.6L179.8 438.3L181.8 436L183.8 433.8L185.7 431.5L187.7 429.2L189.6 426.9L191.5 424.5L193.4 422.2L195.3 419.9L197.3 417.6L199.3 415.3L201.2 413.1L203.2 410.8L205.2 408.6L207.2 406.3L209.3 404.1L211.3 401.8L213.3 399.6L215.3 397.3L217.4 395.1L219.5 393L221.6 390.8L223.7 388.7L225.9 386.6L228.1 384.6L230.4 382.9L232.9 381.6L235.6 380.4L238.2 379.1L240.8 377.6L243.4 376.1L246 374.7L248.8 373.4L251.5 372.2L254.3 371.1L257.1 370.1L260 369.1L262.8 368.1L265.7 367.1L268.5 366.2L271.4 365.2L274.2 364.2L277.1 363.3L280 362.4L282.9 361.5L285.7 360.7L288.6 359.8L291.5 359L294.4 358.1L297.3 357.3L298.8 356.9" stroke="#0000ee" stroke-width="2.4" stroke-dasharray="8.2 6.3"/>
<path d="M298.8 356.9L297.9 359.8L296.9 362.6L295.7 365.3L294.2 367.9L292.5 370.3L290.7 372.7L288.9 375.1L287.1 377.5L285.3 379.9L283.3 382.2L281.3 384.4L279.1 386.5L276.9 388.5L274.6 390.4L272.2 392.3L269.9 394.2L267.5 396L265 397.7L262.5 399.4L259.9 400.9L257.3 402.4L254.7 403.9L252 405.3L249.3 406.6L246.6 407.9L243.9 409.2L241.1 410.4L238.3 411.6L235.6 412.7L232.8 413.9L230 415.1L227.3 416.2L224.5 417.5L221.8 418.8L219.1 420.2L216.5 421.6L213.8 422.9L211.1 424.3L208.4 425.7L205.8 427.1L203.1 428.5L200.4 429.7L197.6 430.5L194.8 430.9L192.2 430.9L189.7 431.2L187.5 432.5L185.5 434.5L183.5 436.7L181.6 439L179.6 441.3L177.6 443.6L175.7 445.9L173.7 448.2L171.8 450.5L170 452.8L168.2 455.2L166.4 457.7L164.6 460.1L162.8 462.5L160.9 464.9L159.1 467.2L157.2 469.6L155.2 471.9L153.3 474.2L151.4 476.5L149.5 478.9L147.6 481.2L145.7 483.5L143.8 485.9L142 488.3L140.1 490.6L138.3 493L136.5 495.4L134.7 497.9L133 500.3L131.3 502.8L129.6 505.3L127.9 507.8L126.2 510.3L124.4 512.7L122.6 515.1L120.8 517.5L118.9 519.8L116.9 522.1L114.9 524.4L112.9 526.6L110.8 528.7L108.6 530.7L106.2 532.6L103.8 534.4L101.3 536.1L98.9 537.8L96.3 539.5L93.9 541.2L91.5 543L89.3 545L87.1 547.1L85 549.3L82.9 551.3L80.5 553.1L77.9 554.7L75.3 556L72.5 557.2L69.7 558.3L66.9 559.3L64 560.2L61.1 561.1L58.3 562L55.4 562.9L52.5 563.7L49.6 564.6L46.7 565.5L43.9 566.4L41 567.3L38.1 568.3L35.3 569.2L32.4 570.2L29.6 571.2L26.8 572.2L23.9 573.2" stroke="#0000ee" stroke-width="2.4" stroke-dasharray="8.2 6.3" stroke-dashoffset="3"/>
<path d="M57.6 560.9L58.3 558L59.2 555.2L60.2 552.4L61.6 549.7L63 547.1L64.6 544.6L66.3 542.1L68.1 539.7L70 537.4L72 535.2L74.2 533.2L76.6 531.4L79.1 529.8L81.6 528.3L84.2 526.7L86.7 525L89.2 523.4L91.7 521.7L94.2 520L96.7 518.4L99.2 516.7L101.6 515.1L104.1 513.4L106.6 511.7L109 509.9L111.4 508.1L113.8 506.2L116.1 504.3L118.4 502.4L120.7 500.5L122.9 498.4L125.1 496.4L127.2 494.3L129.4 492.3L131.6 490.2L133.8 488.1L135.9 486L138.1 483.9L140.2 481.8L142.4 479.8L144.6 477.8L146.9 475.8L149.1 473.8L151.3 471.8L153.5 469.7L155.7 467.7L157.9 465.6L160 463.4L162 461.2L163.9 458.9L165.8 456.6L167.6 454.2L169.5 451.9L171.4 449.5L173.3 447.2L175.1 444.9L177 442.5L178.9 440.2L180.9 437.9L182.8 435.7L184.8 433.4L186.8 431.1L188.7 428.8L190.6 426.5L192.5 424.2L194.4 421.9L196.3 419.6L198.3 417.3L200.3 415L202.2 412.8L204.2 410.5L206.2 408.3L208.2 406L210.2 403.8L212.2 401.6L214.2 399.3L216.3 397.1L218.3 395L220.4 392.8L222.5 390.7L224.6 388.6L226.8 386.5L229.1 384.5L231.4 382.7L233.9 381.2L236.5 379.7L239.1 378.3L241.7 376.8L244.4 375.4L247.1 374.1L249.8 372.9L252.6 371.8L255.4 370.8L258.3 369.8L261.1 368.8L263.9 367.8" stroke="#0000ee" stroke-width="2.4" stroke-dasharray="8.2 6.3" stroke-dashoffset="5"/>
<path d="M263.9 367.8L263.7 370.7L263.2 373.7L262.4 376.5L261.3 379.3L259.9 381.9L258.3 384.5L256.7 387L254.9 389.4L253 391.7L251 393.9L249 396.1L246.9 398.3L244.7 400.3L242.4 402.3L240.2 404.3L238 406.3L235.8 408.4L233.6 410.5L231.4 412.5L229.1 414.3L226.6 416L224 417.5L221.4 419L218.7 420.3L216 421.6L213.3 423L210.6 424.3L208 425.7L205.3 427.1L202.7 428.5L199.9 429.7L197.2 430.6L194.4 431L191.8 431.2L189.4 431.9L187.3 433.5L185.2 435.6L183.3 437.9L181.3 440.1L179.3 442.4L177.4 444.7L175.5 447L173.5 449.3L171.6 451.6L169.8 454L168 456.4L166.2 458.8L164.4 461.2L162.6 463.6L160.8 466L158.9 468.3L157 470.6L155.1 473L153.2 475.3L151.2 477.6L149.3 479.9L147.5 482.2L145.6 484.6L143.7 486.9L141.9 489.3L140 491.7L138.2 494.1L136.4 496.5L134.6 498.9L132.9 501.4L131.2 503.8L129.5 506.3L127.9 508.8L126.1 511.3L124.3 513.7L122.5 516.1L120.7 518.4L118.8 520.8L116.8 523L114.8 525.3L112.8 527.5L110.7 529.6L108.4 531.6L106.1 533.4L103.7 535.2L101.2 536.9L98.7 538.6L96.2 540.2L93.6 541.7L91 543.2L88.3 544.6L85.7 546L83 547.3L80.3 548.7" stroke="#0000ee" stroke-width="2.4" stroke-dasharray="8.2 6.3" stroke-dashoffset="1"/>
<path d="M93.6 543.5L94.6 540.7L95.6 537.8L96.7 535L97.7 532.2L98.8 529.4L100 526.6L101.4 524L103.1 521.5L104.9 519.2L106.9 516.9L109 514.7L111 512.5L113.1 510.4L115.3 508.2L117.4 506.1L119.5 503.9L121.5 501.7L123.6 499.5L125.7 497.3L127.7 495.1L129.8 493L132 490.8L134.1 488.7L136.2 486.5L138.4 484.4L140.5 482.3L142.7 480.3L145 478.2L147.2 476.3L149.5 474.2L151.7 472.2L153.9 470.1L156.1 468.1L158.3 466L160.4 463.8L162.4 461.6L164.3 459.3L166.2 456.9L168.1 454.5L170 452.2L171.8 449.8L173.7 447.5L175.6 445.1L177.5 442.8L179.5 440.5L181.4 438.2L183.4 435.9L185.4 433.6L187.3 431.3L189.3 429L191.2 426.7L193.1 424.3L195 422L196.9 419.7L198.9 417.4L200.9 415.1L202.9 412.9L204.9 410.6L206.9 408.4L208.9 406.1L210.9 403.9L212.9 401.6L214.9 399.4L217 397.1L219 394.9L221.1 392.8L223.3 390.7L225.6 388.7L227.9 386.8L229.1 385.9" stroke="#0000ee" stroke-width="2.4" stroke-dasharray="8.2 6.3" stroke-dashoffset="6"/>
<path d="M229.1 385.9L228 388.7L226.8 391.5L225.4 394.1L223.8 396.6L221.9 398.9L219.9 401.2L217.9 403.5L216 405.8L214.2 408.2L212.4 410.6L210.5 412.9L208.6 415.3L206.6 417.6L204.6 419.8L202.6 422L200.5 424.2L198.3 426.2L196 428L193.6 429.3L191.2 430.1L188.9 430.9L186.9 432.3L184.8 434.4L182.9 436.6L180.9 438.9L178.9 441.2L177 443.5L175 445.8L173.1 448.1L171.2 450.4L169.3 452.8L167.5 455.2L165.7 457.7L163.9 460.1L162.1 462.5L160.3 464.9L158.4 467.2L156.5 469.6L154.5 471.9L152.6 474.2L150.7 476.5L148.8 478.9L146.9 481.2L145 483.6L143.1 485.9L141.2 488.3L139.4 490.7L137.6 493.1L135.8 495.5L134 497.9L132.3 500.4L130.6 502.9L128.9 505.4L127.2 507.9L125.4 510.4L123.7 512.8L121.8 515.2L120 517.6L118.1 519.9L116.1 522.2L114.1 524.4L112.1 526.6L109.9 528.7L107.6 530.7L105.3 532.6L102.9 534.4L100.5 536.2L98.3 538.2L96.3 540.4L94.5 542.8L93.6 544" stroke="#0000ee" stroke-width="2.4" stroke-dasharray="8.2 6.3" stroke-dashoffset="2"/>
<path d="M125.9 505L127.7 502.6L129.4 500.1L131.2 497.7L133 495.2L134.8 492.8L136.7 490.5L138.6 488.1L140.5 485.8L142.4 483.5L144.4 481.2L146.4 478.9L148.4 476.6L150.4 474.4L152.4 472.1L154.4 469.9L156.4 467.6L158.4 465.4L160.4 463.1L162.4 460.8L164.4 458.6L166.4 456.3L168.4 454.1L170.4 451.8L172.5 449.5L174.5 447.3L176.5 445L178.5 442.8L180.5 440.5L182.5 438.3L184.5 436L186.5 433.7L188.5 431.5L190.5 429.2L192.5 427L194.5 424.7L195.5 423.6" stroke="#0000ee" stroke-width="2.4" stroke-dasharray="8.2 6.3" stroke-dashoffset="5"/>
<path d="M195.5 423.6L194 426.2L192.5 428.8L190.9 431.4L189.4 434L187.7 436.5L185.8 438.9L184 441.3L182 443.6L180.1 445.9L178.2 448.2L176.2 450.5L174.1 452.8L172.1 455L170 457.2L168 459.4L165.9 461.7L163.9 463.9L161.8 466.1L159.8 468.3L157.7 470.5L155.7 472.8L153.6 475L151.6 477.2L149.5 479.4L147.5 481.7L145.4 483.9L143.3 486.1L141.3 488.3L139.2 490.6L137.2 492.8L135.1 495L133.1 497.2L131 499.4L129 501.7L126.9 503.9L125.9 505" stroke="#0000ee" stroke-width="2.4" stroke-dasharray="8.2 6.3" stroke-dashoffset="0"/>
</g>
<rect x="9.5" y="335.5" width="118" height="29" fill="#fff" stroke="#333" stroke-width="1"/>
<path d="M11.7 343.3h20" stroke="#f00000" stroke-width="2.2" fill="none"/>
<path d="M11.7 356.7h20" stroke="#0000ee" stroke-width="2.3" stroke-dasharray="8.2 7" fill="none"/>
<g font-size="11.80" fill="#000" stroke="#000" stroke-width="0.12">
<text x="33" y="347.6">Experimental result</text>
<text x="33" y="360.7">Simulation result</text>
</g>
<text x="26.6" y="634.6" font-size="15.9" fill="#000" stroke="#000" stroke-width="0.15">(b) Comparison of results with condition 2</text>
</g>
<g id="panel-c">
<clipPath id="cpc"><rect x="0.5" y="670.5" width="314" height="276"/></clipPath>
<g fill="none" stroke="#5c5c5c" stroke-width="1">
<rect x="0.5" y="670.5" width="314" height="276" stroke="#9a9a9a"/>
<path d="M0.5 807.5H314.5M157.5 670.5V946.5"/>
<path d="M17.5 807.5v-3.5M52.5 807.5v-3.5M87.5 807.5v-3.5M122.5 807.5v-3.5M192.5 807.5v-3.5M227.5 807.5v-3.5M261.5 807.5v-3.5M296.5 807.5v-3.5M157.5 922.5h3.5M157.5 884.5h3.5M157.5 846.5h3.5M157.5 769.5h3.5M157.5 731.5h3.5M157.5 693.5h3.5"/>
</g>
<g font-size="12.54" fill="#000" stroke="#000" stroke-width="0.12">
<text x="16.8" y="824" text-anchor="middle">-8</text>
<text x="51.7" y="824" text-anchor="middle">-6</text>
<text x="86.6" y="824" text-anchor="middle">-4</text>
<text x="121.5" y="824" text-anchor="middle">-2</text>
<text x="192.5" y="824" text-anchor="middle">2</text>
<text x="227.4" y="824" text-anchor="middle">4</text>
<text x="262.3" y="824" text-anchor="middle">6</text>
<text x="297.2" y="824" text-anchor="middle">8</text>
<text x="154" y="927.3" text-anchor="end">-150</text>
<text x="154" y="889" text-anchor="end">-100</text>
<text x="154" y="850.7" text-anchor="end">-50</text>
<text x="154" y="774.1" text-anchor="end">50</text>
<text x="154" y="735.8" text-anchor="end">100</text>
<text x="154" y="697.5" text-anchor="end">150</text>
</g>
<g font-size="15.64" fill="#000" stroke="#000" stroke-width="0.15">
<text x="165" y="689">force/kN</text>
<text x="193" y="838">displacement/mm</text>
</g>
<g clip-path="url(#cpc)" fill="none" stroke-linejoin="round" stroke-linecap="butt">
<path d="M17.7 920.2L18.2 917L18.8 913.9L19.8 910.8L21 907.8L22.6 905.1L24.4 902.5L26.5 900" stroke="#f00000" stroke-width="2.1"/>
<path d="M297.4 686.8L297.5 689.7L297.4 692.7L296.8 695.6L296.1 698.5L295.2 701.4L294.1 704.1L292.8 706.9L291.4 709.5L289.9 712.1L288.2 714.6L286.4 717L284.6 719.4L282.7 721.7L280.7 723.9L278.7 726.2L276.6 728.3L274.4 730.3L272.1 732.4L269.8 734.3L267.5 736.2L265.1 738L262.7 739.8L260.2 741.5L257.7 743.2L255.2 744.8L252.7 746.4L250.1 748L247.5 749.4L244.9 750.9L242.2 752.3L239.5 753.7L236.8 755L234.2 756.4L231.5 757.8L228.8 759.2L226.2 760.7L223.6 762.2L221 763.7L218.5 765.3L215.9 766.8L213.3 768.3L210.7 769.8L208.1 771.4L205.6 773L203.1 774.8L200.7 776.5L198.4 778.4L196.1 780.4L193.9 782.4L191.7 784.5L189.6 786.6L187.6 788.8L185.5 791L183.6 793.3L181.6 795.6L179.7 797.9L177.7 800.2L175.7 802.4L173.7 804.6L171.6 806.8L169.5 809L167.4 811.1L165.2 813.1L163 815.1L160.7 817.2L158.5 819.2L156.3 821.2L154.2 823.3L152 825.4L149.9 827.5L147.7 829.6L145.6 831.8L143.5 834L141.5 836.2L139.6 838.5L137.6 840.8L135.7 843.1L133.9 845.5L132.1 847.9L130.3 850.3L128.5 852.7L126.7 855.1L124.9 857.5L123 859.9L121.1 862.2L119.2 864.5L117.2 866.7L115.2 868.9L113 871L110.8 873L108.5 875L106.2 876.9L103.9 878.9L101.6 880.8L99.2 882.7L96.9 884.5L94.5 886.3L92 888L89.5 889.7L86.9 891.2L84.3 892.6L81.6 893.9L78.9 895.2L76.1 896.5L73.4 897.8L70.7 899L67.9 900.3L65.2 901.5L62.5 902.8L59.8 904.1L57 905.3L54.3 906.5L51.5 907.7L48.7 908.8L45.9 909.8L43.1 910.9L40.3 911.9L37.4 912.9L34.6 914L31.8 915L29 916L26.1 917.1L23.3 918.1L20.5 919.1L17.7 920.2" stroke="#f00000" stroke-width="2.1"/>
<path d="M52.5 907.4L52.9 904.4L53.5 901.5L54.3 898.6L55.4 895.9L56.7 893.2L58.2 890.6L59.9 888.1L61.7 885.7L63.6 883.4L65.7 881.2L67.9 879.2L70.1 877.1L72.3 875.1L74.7 873.2L77 871.4L79.5 869.7L82.1 868.1L84.7 866.6L87.3 865.1L89.9 863.7L92.5 862.2L95.1 860.6L97.7 859L100.2 857.3L102.6 855.6L105.1 853.9L107.5 852.1L109.9 850.3L112.3 848.4L114.6 846.5L116.9 844.6L119.2 842.6L121.4 840.6L123.6 838.5L125.7 836.4L127.9 834.3L130 832.2L132.1 830L134.3 827.9L136.4 825.8L138.5 823.7L140.6 821.5L142.8 819.4L144.9 817.3L147 815.1L149.1 813L151.3 810.9L153.4 808.7L155.4 806.5L157.4 804.3L159.3 801.9L161.1 799.5L162.9 797.1L164.6 794.6L166.3 792.2L168 789.7L169.7 787.2L171.4 784.7L173.1 782.2L174.8 779.7L176.5 777.2L178.2 774.7L179.9 772.2L181.5 769.7L183.2 767.2L184.9 764.7L186.5 762.2L188.2 759.7L189.9 757.2L191.6 754.7L193.3 752.3L195.1 749.9L196.9 747.5L198.8 745.1L200.7 742.8L202.7 740.5L204.6 738.2L206.5 735.9L208.2 733.4L209.9 731L211.6 728.5L213.5 726.2L215.6 724.1L217.9 722.2L220.3 720.4L222.8 718.7L225.3 717.1L227.9 715.6L230.6 714.2L233.3 712.8L236 711.6L238.8 710.4L241.5 709.2L244.3 708L247.1 706.9L249.9 705.7L252.7 704.7L255.5 703.7L258.4 702.7L261.2 701.7L264 700.6L266.8 699.6L269.7 698.5L272.5 697.4L275.2 696.3L278 695.1L280.8 693.9L283.5 692.7L286.3 691.5L289.1 690.3L291.8 689.2L294.6 688L297.4 686.8" stroke="#f00000" stroke-width="2.1"/>
<path d="M113.4 848.8L115.7 846.8L118 844.8L120.2 842.8L122.4 840.8L124.6 838.7L126.8 836.6L128.9 834.5L131 832.3L133.1 830.2L135.3 828.1L137.4 826L139.5 823.8L141.7 821.7L143.8 819.6L145.9 817.5L148 815.3L150.2 813.2L152.3 811.1L154.4 808.9L156.5 806.8L158.5 804.6L160.5 802.3L162.5 800L164.5 797.8L166.4 795.4L168.2 793L169.9 790.6L171.6 788.1L173.3 785.6L175 783.1L176.7 780.6L178.4 778.1L180.1 775.7L181.7 773.2L183.4 770.7L185.1 768.2L186.8 765.7L188.4 763.1L190.1 760.6L191.8 758.1L193.5 755.7L195.2 753.2L196.9 750.7L198.7 748.3L200.6 746L202.5 743.6L204.4 741.3L206.4 739.1L208.3 736.7L210 734.3L211.6 731.8L213.2 729.3L215.1 727L217.2 724.9L219.5 723.1L222 721.3L224.4 719.6L227 718L229.6 716.5L232.2 715L234.9 713.6L237.6 712.3L240.3 711.1L243.1 709.9L245.8 708.7L248.6 707.5L251.4 706.4L254.2 705.2L257 704.1L259.8 703L262.6 701.9" stroke="#f00000" stroke-width="2.1"/>
<path d="M262.6 701.4L262.2 704.4L261.7 707.4L261.1 710.3L260.2 713.2L259.2 716L257.9 718.7L256.6 721.4L255.1 724L253.5 726.5L251.7 729L249.9 731.3L248 733.6L245.9 735.9L243.8 738L241.7 740.1L239.5 742.2L237.2 744.1L234.8 745.9L232.2 747.4L229.6 748.9L226.9 750.3L224.2 751.6L221.6 753.1L219.1 754.7L216.6 756.4L214.2 758.2L211.9 760.1L209.6 762.1L207.4 764.2L205.3 766.3L203.1 768.4L201 770.5L198.9 772.6L196.8 774.8L194.7 777L192.7 779.2L190.7 781.5L188.8 783.8L186.8 786L184.8 788.3L182.9 790.6L180.9 792.9L179 795.2L177.1 797.6L175.2 799.9L173.3 802.2L171.3 804.4L169.2 806.7L167.2 808.9L165.1 811L162.9 813.1L160.8 815.2L158.6 817.3L156.5 819.4L154.3 821.5L152.2 823.6L150 825.7L147.9 827.9L145.8 830L143.7 832.2L141.7 834.4L139.7 836.7L137.7 839L135.9 841.3L134 843.7L132.2 846.1L130.4 848.5L128.6 850.9L126.8 853.3L125 855.7L123.1 858.1L121.2 860.4L119.3 862.7L117.3 865L115.3 867.2L113.1 869.3L110.9 871.3L108.7 873.4L106.5 875.4L104.2 877.4L102 879.4L99.7 881.4L97.4 883.3L95.1 885.2L92.7 887L90.2 888.8L87.7 890.4L85 891.8L82.4 893.1L79.6 894.4L76.9 895.7L74.2 896.9L71.4 898.2L68.7 899.5L66 900.7L63.3 902.1L60.6 903.4L57.9 904.7L55.2 906.1L52.5 907.4" stroke="#f00000" stroke-width="2.1"/>
<path d="M87.8 890.7L88.2 887.7L88.7 884.8L89.5 881.9L90.6 879.1L91.9 876.4L93.4 873.8L95.1 871.3L96.9 869L99 866.8L101.1 864.6L103.3 862.6L105.6 860.6L107.8 858.6L110.1 856.6L112.3 854.5L114.4 852.4L116.5 850.3L118.6 848.1L120.7 845.8L122.6 843.6L124.6 841.3L126.6 839L128.5 836.7L130.5 834.4L132.5 832.1L134.4 829.8L136.4 827.5L138.3 825.2L140.3 823L142.3 820.7L144.3 818.4L146.3 816.2L148.4 814L150.6 811.9L152.8 809.9L155.1 807.9L157.3 805.9L159.6 803.9L161.8 801.8L164 799.8L166.2 797.7L168.3 795.6L170.2 793.3L172 790.8L173.7 788.4L175.4 785.9L177.1 783.4L178.8 780.9L180.5 778.4L182.2 775.9L183.9 773.4L185.6 770.9L187.2 768.4L188.9 765.9L190.6 763.4L192.3 760.9L193.9 758.3L195.6 755.8L197.3 753.4L199.1 750.9L200.9 748.5L202.8 746.1L204.6 743.8L206.6 741.5L208.6 739.2L210.4 736.8L212.1 734.4L213.6 731.8L215.2 729.3L217.1 727L219.3 724.9L221.5 723L223.8 721L225 720" stroke="#f00000" stroke-width="2.1"/>
<path d="M225 720L224 722.9L223 725.7L221.8 728.4L220.7 731.2L219.7 734.1L218.9 736.9L218 739.8L217 742.6L215.7 745.3L214.1 747.8L212.3 750.2L210.5 752.6L208.7 755.1L206.9 757.5L205.1 759.9L203.3 762.3L201.5 764.7L199.7 767.1L197.8 769.5L196 771.9L194.2 774.4L192.4 776.8L190.6 779.2L188.8 781.6L187 784L185.2 786.4L183.4 788.8L181.5 791.2L179.7 793.6L177.8 796L175.9 798.3L174 800.6L172 802.9L170 805.2L167.9 807.3L165.8 809.4L163.6 811.5L161.3 813.5L159.1 815.6L156.9 817.6L154.7 819.7L152.6 821.8L150.4 823.9L148.3 826L146.2 828.2L144.1 830.4L142 832.6L140 834.9L138.1 837.2L136.2 839.5L134.3 841.9L132.5 844.3L130.7 846.7L128.9 849.1L127.1 851.5L125.3 853.9L123.4 856.3L121.5 858.7L119.6 861L117.6 863.2L115.6 865.5L113.5 867.6L111.3 869.6L109 871.6L106.7 873.6L104.4 875.6L102.1 877.5L99.8 879.4L97.4 881.2L95.1 883.2L92.9 885.2L90.8 887.4L88.8 889.6L87.8 890.7" stroke="#f00000" stroke-width="2.1"/>
<path d="M87.8 890.7L88.2 887.7L88.7 884.8L89.5 882L90.7 879.2L92.2 876.7L93.9 874.3L95.9 872L97.9 869.8L100 867.7L102.2 865.6L104.4 863.6L106.7 861.6L108.9 859.6L111.2 857.6L113.3 855.5L115.5 853.4L117.5 851.2L119.6 849L121.6 846.8L123.6 844.5L125.5 842.2L127.5 839.9L129.4 837.7L131.4 835.4L133.3 833.1L135.3 830.8L137.2 828.5L139.2 826.3L141.2 824L143.1 821.7L145.1 819.4L147.1 817.2L149.3 815.1L151.4 813L153.6 810.9L155.7 808.8L157.9 806.7L160.1 804.7L162.3 802.7L164.6 800.8L166.9 798.8L169.1 796.8L171.2 794.7L173.1 792.4L174.8 789.9L176.5 787.4L178.2 785L179.9 782.5L181.6 780L183.3 777.5L185 775L186.7 772.5L188.3 770L190 767.5L191.7 765L193.3 762.5L195 760L196.7 757.5L198.4 755.1L200.1 752.6L201.9 750.2L203.7 747.8L205.5 745.4L207.4 743.1L209.4 740.8L211.2 738.5L212.8 736L214 733.4L215 730.7L216.4 728.2L218.2 726L220.4 723.9L222.7 722L225 720" stroke="#f00000" stroke-width="2.1"/>
<path d="M225 720L224.1 722.9L223 725.7L221.8 728.4L220.6 731.2L219.5 733.9L218.4 736.8L217.3 739.5L216 742.2L214.5 744.8L212.7 747.2L210.9 749.6L209.1 752L207.3 754.4L205.5 756.8L203.7 759.2L201.9 761.6L200.1 764L198.3 766.5L196.5 768.9L194.7 771.3L192.9 773.7L191.1 776.1L189.3 778.5L187.5 780.9L185.7 783.3L183.9 785.7L182 788.1L180.2 790.5L178.4 792.8L176.5 795.2L174.6 797.5L172.6 799.8L170.7 802.1L168.7 804.3L166.6 806.5L164.6 808.7L162.5 810.9L160.5 813.1L158.4 815.3L156.3 817.4L154.1 819.5L152 821.6L149.8 823.7L147.7 825.8L145.6 828L143.5 830.2L141.5 832.4L139.5 834.6L137.5 836.9L135.6 839.3L133.8 841.6L132 844L130.2 846.4L128.4 848.8L126.6 851.2L124.8 853.6L122.9 856L121 858.4L119.1 860.7L117.1 862.9L115.1 865.2L113 867.3L110.8 869.3L108.5 871.3L106.3 873.3L104 875.2L101.6 877.1L99.3 879L97 880.9L94.7 882.9L92.6 885L90.7 887.3L88.7 889.6L87.8 890.7" stroke="#f00000" stroke-width="2.1"/>
<path d="M122.8 853.8L123.3 850.8L123.9 847.9L124.7 845L125.7 842.2L127 839.5L128.6 837L130.3 834.5L132.1 832.1L134 829.8L136 827.5L138 825.2L140 823L142 820.8L144.1 818.6L146.3 816.5L148.4 814.4L150.6 812.4L152.9 810.3L155.1 808.4L157.5 806.5L159.8 804.6L162.2 802.8L164.7 801L167.1 799.2L169.5 797.4L171.7 795.5L173.8 793.3L175.6 790.9L177.3 788.5L179 786L180.7 783.5L182.4 781L184.1 778.5L185.8 776L187.5 773.5L189.2 771L190.8 768.5L192.2 766L193 763.3L193.2 760.4L192.9 757.5L192.5 754.5" stroke="#f00000" stroke-width="2.1"/>
<path d="M192.5 754.5L191.9 757.5L191.2 760.4L190.4 763.3L189.3 766.1L188.1 768.9L186.8 771.7L185.4 774.4L184 777.1L182.6 779.7L181 782.3L179.5 784.9L177.8 787.5L176.2 790L174.5 792.5L172.9 795.1L171.1 797.6L169.4 800L167.6 802.5L165.8 804.9L163.9 807.3L162.1 809.7L160.2 812.1L158.2 814.4L156.3 816.7L154.2 818.9L152.1 821.1L150 823.3L147.9 825.5L145.8 827.6L143.7 829.8L141.6 832L139.6 834.3L137.6 836.6L135.7 838.9L133.8 841.3L131.9 843.6L129.9 845.9L127.9 848.2L125.9 850.4L123.8 852.7L122.8 853.8" stroke="#f00000" stroke-width="2.1"/>
<path d="M19.8 924.8L20 921.8L20.4 918.9L20.9 915.9L21.6 913L22.5 910.2L23.6 907.4L24.9 904.7L26.3 902L27.7 899.4L29.3 896.8L30.9 894.3L32.5 891.8L34.2 889.3L35.9 886.8L37.7 884.4L39.5 882L41.4 879.7L43.3 877.4L45.3 875.1L47.3 872.9L49.4 870.8L51.6 868.7L53.8 866.7L56.1 864.8L58.5 863L61 861.3L63.5 859.7L66.1 858.2L68.8 856.8L71.5 855.6L74.3 854.4L77.1 853.4L79.9 852.5L82.8 851.7L85.8 851.1L88.7 850.6L91.6 849.9L94.5 849.1L97.4 848.2L100.2 847.2L103 846L105.7 844.9L108.5 843.7L111.2 842.4L113.9 841.2L116.6 839.8L119.3 838.5L121.9 837L124.4 835.3L126.8 833.5L129.1 831.6L131.3 829.6L133.5 827.5L135.6 825.4L137.7 823.3L139.8 821.2L141.9 819L144 816.8L146.1 814.6L148.1 812.4L150.1 810.2L152.1 808L154.2 805.8L156.1 803.5L158 801.2L159.9 798.8L161.7 796.4L163.4 794L165.2 791.5L166.9 789.1L168.6 786.6L170.3 784.2L172.1 781.7L173.9 779.3L175.7 776.9L177.5 774.5L179.3 772.1L181.1 769.7L182.9 767.3L184.7 764.9L186.5 762.5L188.3 760.1L190.1 757.7L191.9 755.3L193.8 753L195.8 750.7L197.7 748.4L199.7 746.1L201.6 743.8L203.6 741.6L205.6 739.3L207.6 737.1L209.7 735L211.9 732.9L214.2 731L216.5 729.1L218.9 727.4L221.3 725.5L223.7 723.7L226.1 721.9L228.5 720.1L230.9 718.4L233.5 716.8L236.1 715.4L238.8 714.1L241.5 712.8L244.3 711.7L247.1 710.6L249.9 709.5L252.7 708.5L255.5 707.4L258.3 706.3L261.2 705.3L264 704.3L266.8 703.4L269.7 702.5L272.6 701.5L275.4 700.6L278.2 699.6L281.1 698.6L283.9 697.5L286.7 696.5L289.5 695.4L292.3 694.2" stroke="#0000ee" stroke-width="2.4" stroke-dasharray="8.2 6.3"/>
<path d="M292.3 694.2L292.3 697.2L292.1 700.2L291.7 703.2L291.1 706.1L290.4 709.1L289.6 711.9L288.5 714.7L287.3 717.5L286 720.2L284.5 722.8L282.9 725.3L281.1 727.7L279.2 730.1L277.3 732.4L275.4 734.7L273.4 736.9L271.4 739.2L269.2 741.3L267 743.3L264.6 745.1L262.2 746.9L259.8 748.7L257.3 750.3L254.7 751.9L252.2 753.5L249.6 755L247 756.5L244.3 758L241.7 759.4L238.9 760.7L236.2 761.9L233.4 763.1L230.6 764.1L227.7 765L224.9 765.9L222 766.7L219.1 767.6L216.2 768.5L213.4 769.4L210.5 770.4L207.7 771.4L204.9 772.6L202.2 773.8L199.4 775.1L196.8 776.5L194.2 778L191.7 779.6L189.2 781.3L186.7 783.1L184.4 785L182.2 787L180.1 789.1L177.9 791.2L175.8 793.4L173.7 795.5L171.6 797.6L169.5 799.8L167.4 802L165.4 804.2L163.4 806.4L161.4 808.7L159.4 811L157.4 813.2L155.4 815.5L153.4 817.7L151.4 820L149.4 822.2L147.5 824.5L145.5 826.8L143.6 829.1L141.8 831.5L139.9 833.9L138.1 836.3L136.3 838.7L134.5 841.1L132.7 843.5L130.9 845.9L129.1 848.3L127.3 850.8L125.5 853.2L123.7 855.5L121.8 857.9L119.9 860.2L117.9 862.5L115.9 864.7L113.8 866.9L111.7 869.1L109.6 871.3L107.6 873.4L105.5 875.6L103.5 877.9L101.5 880.2L99.6 882.4L97.6 884.7L95.6 886.9L93.5 889.1L91.3 891.2L89.1 893.1L86.7 894.9L84.1 896.6L81.5 898.1L78.9 899.6L76.3 901L73.7 902.5L71 903.9L68.3 905.2L65.6 906.6L63 908L60.3 909.3L57.6 910.7L54.9 912L52.2 913.3L49.4 914.5L46.7 915.7L43.9 916.9L41.1 918.1L38.3 919.2L35.5 920.4L32.7 921.4L29.9 922.4L27 923.3L24.1 924.1L21.2 924.9L19.8 925.3" stroke="#0000ee" stroke-width="2.4" stroke-dasharray="8.2 6.3" stroke-dashoffset="3"/>
<path d="M53.4 908.6L53.9 905.6L54.4 902.7L55.2 899.8L56.2 897L57.4 894.3L58.8 891.6L60.4 889.1L62.2 886.7L64 884.4L66 882.1L68.1 880L70.3 877.9L72.5 875.9L74.7 873.9L76.9 871.9L79 869.7L81 867.5L83 865.2L85 863.1L87.3 861.2L89.8 859.6L92.4 858L94.9 856.5L97.5 854.9L100.1 853.4L102.6 851.7L105.1 850L107.5 848.3L110 846.6L112.4 844.8L114.8 843.1L117.3 841.3L119.7 839.5L122.1 837.7L124.5 835.9L126.9 834.1L129.2 832.2L131.4 830.3L133.6 828.2L135.7 826.1L137.9 823.9L140 821.8L142.1 819.7L144.2 817.5L146.2 815.3L148.2 813.1L150.3 810.9L152.3 808.7L154.3 806.4L156.3 804.2L158.2 801.9L160 799.5L161.8 797.1L163.6 794.7L165.3 792.2L167 789.8L168.8 787.3L170.5 784.9L172.2 782.4L174 780L175.8 777.6L177.6 775.2L179.4 772.8L181.2 770.4L183 768L184.8 765.6L186.6 763.2L188.4 760.8L190.2 758.4L192.1 756L194 753.7L195.9 751.4L197.8 749.1L199.8 746.8L201.7 744.6L203.7 742.3L205.7 740L207.7 737.8L209.8 735.7L212 733.6L214.3 731.7L216.7 729.9L219.1 728.3L221.6 726.5L224 724.7L226.4 722.9L228.8 721.1L231.2 719.4L233.8 717.8L236.4 716.4L239.1 715.1L241.8 713.8L244.6 712.6L247.3 711.5L250.1 710.3L252.8 709.1L255.5 707.8L258.2 706.5L260.9 705.2" stroke="#0000ee" stroke-width="2.4" stroke-dasharray="8.2 6.3" stroke-dashoffset="5"/>
<path d="M260.9 705.2L260.7 708.2L260.4 711.1L259.9 714.1L259.3 717L258.6 719.9L257.5 722.7L256.3 725.4L254.9 728.1L253.3 730.6L251.6 733.1L249.7 735.4L247.8 737.7L245.7 739.9L243.6 742L241.4 744L239.2 746.1L236.9 748L234.6 749.9L232.2 751.7L229.7 753.4L227.1 754.8L224.4 756.1L221.7 757.5L219 758.8L216.4 760.3L213.8 761.7L211.2 763.2L208.6 764.8L206.1 766.4L203.6 768.1L201.1 769.8L198.7 771.6L196.4 773.5L194.1 775.4L191.8 777.4L189.5 779.4L187.3 781.4L185.1 783.5L183 785.6L180.9 787.7L178.9 789.9L176.9 792.2L174.9 794.5L173 796.7L171 799L168.9 801.2L166.9 803.4L164.9 805.6L162.9 807.9L160.9 810.1L158.9 812.4L156.9 814.6L154.9 816.9L152.9 819.1L150.9 821.4L149 823.6L147 825.9L145.1 828.2L143.2 830.6L141.4 832.9L139.5 835.3L137.7 837.7L135.9 840.1L134.1 842.5L132.3 844.9L130.5 847.3L128.7 849.8L126.9 852.2L125.1 854.6L123.3 856.9L121.4 859.3L119.4 861.6L117.5 863.8L115.5 866.1L113.4 868.2L111.3 870.4L109.2 872.5L107.1 874.7L105.1 876.9L103.1 879.2L101.1 881.4L99.1 883.7L97.1 885.9L95 888L92.8 890.1L90.6 892.1" stroke="#0000ee" stroke-width="2.4" stroke-dasharray="8.2 6.3" stroke-dashoffset="1"/>
<path d="M89.4 890L90.3 887.2L91.3 884.3L92.2 881.4L93.2 878.6L94.4 875.9L95.9 873.4L97.7 871L99.6 868.7L101.7 866.5L103.7 864.3L105.8 862.2L108 860L110.1 857.9L112.2 855.8L114.3 853.6L116.4 851.5L118.5 849.3L120.5 847L122.4 844.8L124.4 842.5L126.4 840.2L128.3 837.9L130.2 835.6L132 833.2L133.7 830.7L135.4 828.2L137.2 825.8L139.1 823.6L141.2 821.4L143.3 819.2L145.4 817.1L147.4 814.8L149.4 812.6L151.5 810.4L153.5 808.2L155.5 805.9L157.5 803.7L159.3 801.3L161.1 798.9L162.9 796.5L164.7 794.1L166.4 791.6L168.1 789.1L169.9 786.7L171.6 784.2L173.4 781.8L175.2 779.4L177 777L178.8 774.6L180.6 772.2L182.4 769.8L184.2 767.3L186 764.9L187.8 762.5L189.6 760.1L191.4 757.7L193.3 755.4L195.2 753.1L197.1 750.8L199.1 748.5L201.1 746.2L203 743.9L205 741.6L207 739.4L209.1 737.2L211.2 735.1L213.5 733.2L215.9 731.6L218.5 730.1L221.1 728.7L223.7 727.1L226.1 725.3L227.3 724.4" stroke="#0000ee" stroke-width="2.4" stroke-dasharray="8.2 6.3" stroke-dashoffset="6"/>
<path d="M227.3 724.4L226.3 727.3L225.4 730.2L224.7 733.1L224.1 736L223.6 739L222.9 741.9L221.9 744.7L220.5 747.3L218.8 749.7L216.9 752.1L214.9 754.3L212.7 756.4L210.6 758.6L208.5 760.7L206.3 762.8L204.2 765L202.1 767.1L199.9 769.2L197.8 771.4L195.7 773.5L193.5 775.6L191.4 777.8L189.3 779.9L187.1 782L185 784.2L182.8 786.2L180.6 788.3L178.3 790.3L176.1 792.4L174 794.5L171.8 796.6L169.7 798.8L167.7 801L165.6 803.2L163.6 805.4L161.5 807.7L159.6 809.9L157.6 812.2L155.6 814.4L153.6 816.7L151.6 819L149.6 821.3L147.6 823.5L145.6 825.8L143.7 828.2L141.8 830.5L140 832.9L138.2 835.3L136.4 837.7L134.6 840.2L132.8 842.6L130.9 845L129.1 847.4L127.3 849.8L125.5 852.2L123.7 854.6L121.8 857L119.9 859.3L117.9 861.6L115.9 863.9L113.9 866.1L111.8 868.3L109.6 870.4L107.5 872.5L105.3 874.6L103.1 876.6L100.8 878.6L98.5 880.6L96.3 882.6L94.1 884.6L92.1 886.9L90.3 889.3L89.4 890.5" stroke="#0000ee" stroke-width="2.4" stroke-dasharray="8.2 6.3" stroke-dashoffset="2"/>
<path d="M122.7 854.2L123.2 851.2L123.7 848.2L124.4 845.2L125.2 842.4L126.4 839.6L127.7 836.8L129.1 834.2L130.7 831.6L132.4 829.1L134.3 826.7L136.1 824.3L138 821.9L139.9 819.5L141.8 817.2L143.9 815L146 812.8L148.1 810.6L150.2 808.4L152.3 806.2L154.3 804L156.4 801.8L158.5 799.5L160.5 797.2L162.5 795L164.5 792.7L166.5 790.4L168.5 788.1L170.5 785.8L172.5 783.5L174.5 781.3L176.5 779L178.5 776.7L180.5 774.4L182.5 772.1L184.5 769.8L186.5 767.6L188.5 765.3L190.5 763L192.5 760.7" stroke="#0000ee" stroke-width="2.4" stroke-dasharray="8.2 6.3" stroke-dashoffset="5"/>
<path d="M192.5 760.7L192 763.7L191.5 766.7L190.8 769.6L190 772.5L188.8 775.3L187.5 778L186 780.7L184.4 783.2L182.5 785.6L180.6 787.9L178.6 790.2L176.7 792.5L174.7 794.8L172.7 797.1L170.7 799.4L168.7 801.7L166.7 804L164.7 806.2L162.7 808.5L160.7 810.8L158.7 813.1L156.6 815.3L154.5 817.5L152.5 819.7L150.4 821.9L148.3 824.1L146.2 826.3L144.1 828.6L142 830.8L140 833L138 835.3L136.1 837.7L134.2 840L132.3 842.4L130.4 844.7L128.4 847.1L126.5 849.5L124.6 851.8L122.7 854.2" stroke="#0000ee" stroke-width="2.4" stroke-dasharray="8.2 6.3" stroke-dashoffset="0"/>
</g>
<rect x="5.5" y="675.5" width="119" height="29" fill="#fff" stroke="#333" stroke-width="1"/>
<path d="M7.7 683.3h20" stroke="#f00000" stroke-width="2.2" fill="none"/>
<path d="M7.7 696.7h20" stroke="#0000ee" stroke-width="2.3" stroke-dasharray="8.2 7" fill="none"/>
<g font-size="11.83" fill="#000" stroke="#000" stroke-width="0.12">
<text x="29" y="687.6">Experimental result</text>
<text x="29" y="700.7">Simulation result</text>
</g>
<text x="23" y="971" font-size="15.9" fill="#000" stroke="#000" stroke-width="0.15">(c) Comparison of results with condition 3</text>
</g>
<g id="panel-d">
<clipPath id="cpd"><rect x="375.5" y="0.5" width="309" height="268"/></clipPath>
<g fill="none" stroke="#5c5c5c" stroke-width="1">
<rect x="375.5" y="0.5" width="309" height="268" stroke="#9a9a9a"/>
<path d="M375.5 134.5H684.5M529.5 0.5V268.5"/>
<path d="M392.5 134.5v-3.5M426.5 134.5v-3.5M461.5 134.5v-3.5M495.5 134.5v-3.5M564.5 134.5v-3.5M598.5 134.5v-3.5M633.5 134.5v-3.5M667.5 134.5v-3.5M529.5 246.5h3.5M529.5 208.5h3.5M529.5 171.5h3.5M529.5 97.5h3.5M529.5 59.5h3.5M529.5 22.5h3.5"/>
</g>
<g font-size="12.36" fill="#000" stroke="#000" stroke-width="0.12">
<text x="391.3" y="150.4" text-anchor="middle">-8</text>
<text x="425.7" y="150.4" text-anchor="middle">-6</text>
<text x="460.1" y="150.4" text-anchor="middle">-4</text>
<text x="494.5" y="150.4" text-anchor="middle">-2</text>
<text x="564.5" y="150.4" text-anchor="middle">2</text>
<text x="598.9" y="150.4" text-anchor="middle">4</text>
<text x="633.3" y="150.4" text-anchor="middle">6</text>
<text x="667.7" y="150.4" text-anchor="middle">8</text>
<text x="526.5" y="250.7" text-anchor="end">-150</text>
<text x="526.5" y="213.4" text-anchor="end">-100</text>
<text x="526.5" y="176.1" text-anchor="end">-50</text>
<text x="526.5" y="101.5" text-anchor="end">50</text>
<text x="526.5" y="64.2" text-anchor="end">100</text>
<text x="526.5" y="26.9" text-anchor="end">150</text>
</g>
<g font-size="15.42" fill="#000" stroke="#000" stroke-width="0.15">
<text x="538" y="17">force/kN</text>
<text x="563.5" y="162.5">displacement/mm</text>
</g>
<g clip-path="url(#cpd)" fill="none" stroke-linejoin="round" stroke-linecap="butt">
<path d="M393.1 247.9L410 240.9L426.7 234" stroke="#f00000" stroke-width="2.3"/>
<path d="M426.7 234L427.1 231L427.6 228L428.3 225.1L429.3 222.3L430.5 219.5L431.9 216.9L433.4 214.3L435.1 211.8L436.9 209.5L438.9 207.2L441 205L443.2 203L445.5 201.2L447.9 199.4L450.4 197.6L452.8 195.9L455.3 194.2L457.8 192.5L460.3 190.8L462.7 189L465.1 187.2L467.5 185.4L469.9 183.6L472.3 181.7L474.7 179.9L477.1 178.1L479.5 176.3L481.9 174.5L484.2 172.6L486.6 170.7L488.9 168.8L491.2 166.8L493.5 164.9L495.8 163L498.1 161L500.3 159L502.6 157L504.8 155L507.1 153L509.3 151L511.5 148.9L513.7 146.9L515.9 144.9L518.1 142.8L520.3 140.7L522.4 138.6L524.4 136.3L526.2 133.9L527.8 131.4L529.5 128.9L531.1 126.4L532.9 124L534.7 121.6L536.6 119.2L538.3 116.8L540.1 114.4L541.9 111.9L543.6 109.5L545.3 107L547.1 104.6L548.8 102.1L550.6 99.7L552.4 97.2L554.2 94.8L556 92.4L557.8 90.1L559.7 87.7L561.6 85.3L563.4 83L565.3 80.6L567.2 78.3L569.1 75.9L571 73.6L572.9 71.3L574.9 69L576.7 66.6L578.4 64.1L580 61.6L581.7 59.2L583.7 56.9L585.7 54.7L587.9 52.7L590.3 50.8L592.7 49L595.1 47.3L597.7 45.7L600.3 44.2L602.9 42.8L605.6 41.4L608.3 40L611 38.7L613.7 37.4L616.4 36.1L619.1 34.8L621.9 33.6L624.6 32.4L627.4 31.3L630.2 30.1L633 29L635.8 27.9L638.6 26.8L641.4 25.6L644.1 24.5L646.9 23.2L649.6 22L652.4 20.8L655.1 19.6L657.9 18.3L660.6 17.1L663.4 16L666.2 14.8L667.6 14.3" stroke="#f00000" stroke-width="2.1"/>
<path d="M667.6 14.3L667.8 17.3L667.7 20.2L667.3 23.2L666.6 26.1L665.6 28.9L664.6 31.7L663.3 34.4L661.9 37.1L660.4 39.7L658.8 42.2L657.1 44.7L655.2 47.1L653.3 49.3L651.2 51.5L649.1 53.6L646.9 55.7L644.6 57.7L642.3 59.6L640 61.5L637.5 63.3L635.1 65L632.6 66.7L630 68.3L627.4 69.8L624.8 71.4L622.2 72.9L619.6 74.4L617 75.9L614.4 77.4L611.9 79L609.4 80.7L606.9 82.4L604.5 84.1L602.1 86L599.7 87.8L597.4 89.7L595.1 91.7L592.7 93.6L590.4 95.5L588.1 97.4L585.8 99.3L583.4 101.2L581.1 103.1L578.8 105.1L576.5 107L574.3 109.1L572.1 111.1L570 113.2L567.8 115.4L565.8 117.6L563.7 119.8L561.7 122L559.6 124.2L557.6 126.5L555.6 128.7L553.6 131L551.7 133.2L549.7 135.5L547.8 137.8L545.7 140L543.6 142.1L541.3 144.1L539.1 146.1L536.9 148.1L534.7 150.2L532.5 152.3L530.5 154.5L528.4 156.7L526.3 158.8L524.2 161L522.1 163.2L520 165.3L517.9 167.5L515.8 169.7L513.7 171.8L511.6 174L509.5 176.1L507.4 178.3L505.3 180.5L503.2 182.6L501.1 184.8L499 186.9L496.9 189.1L494.8 191.2L492.7 193.4L490.5 195.5L488.4 197.7L486.3 199.8L484.2 201.9L482 204L479.7 206L477.4 207.8L475 209.6L472.5 211.3L469.9 212.9L467.4 214.5L464.8 216.1L462.2 217.6L459.6 219.1L457 220.6L454.4 222L451.7 223.4L449 224.8L446.3 226.1L443.5 227.3L440.8 228.5L438 229.7L435.2 230.8L432.4 231.8L429.5 232.9L426.7 234" stroke="#f00000" stroke-width="2.1"/>
<path d="M490.4 169.1L492.7 167.2L495 165.2L497.3 163.3L499.6 161.3L501.8 159.3L504 157.3L506.3 155.3L508.5 153.3L510.7 151.3L513 149.3L515.2 147.2L517.4 145.2L519.6 143.1L521.7 141L523.8 138.8L525.7 136.5L527.4 134.1L529 131.5L530.6 129L532.3 126.5L534.1 124.1L535.9 121.7L537.7 119.3L539.5 116.9L541.2 114.4L543 112L544.7 109.5L546.5 107.1L548.2 104.6L550 102.2L551.7 99.8L553.5 97.3L555.3 94.9L557.1 92.5L559 90.2L560.8 87.8L562.7 85.4L564.6 83.1L566.4 80.7L568.3 78.4L570.2 76.1L572.2 73.8L574.1 71.5L576 69.2L577.9 66.8L579.7 64.4L581.5 62L583.4 59.7L585.5 57.5L587.6 55.4L589.9 53.5L592.2 51.6L594.7 49.8L597.2 48.2L599.7 46.6L602.3 45.1L605 43.7L607.6 42.3L610.3 40.9L613 39.5L615.7 38.1L618.4 36.9L621.1 35.6L623.8 34.3L626.5 33L629.2 31.7L631.9 30.3L633.2 29.6" stroke="#f00000" stroke-width="2.1"/>
<path d="M633.2 29.1L632.8 32.1L632.3 35.1L631.6 38L630.6 40.8L629.4 43.6L628.1 46.2L626.5 48.8L624.9 51.3L623.1 53.8L621.3 56.2L619.4 58.5L617.5 60.8L615.4 63L613.3 65.1L611.1 67.2L608.8 69.1L606.5 71L604.1 72.9L601.6 74.6L599.2 76.4L596.7 78.1L594.2 79.8L591.8 81.6L589.4 83.4L587 85.3L584.8 87.3L582.5 89.2L580.2 91.2L577.9 93.2L575.7 95.2L573.4 97.2L571.2 99.3L569.1 101.4L567 103.5L565 105.8L563 108L561 110.3L559.1 112.7L557.2 115L555.3 117.4L553.5 119.7L551.6 122.1L549.8 124.5L548 126.9L546.3 129.4L544.6 131.9L542.9 134.4L541.3 136.9L539.6 139.4L537.9 141.8L536 144.2L534 146.5L532 148.7L529.9 150.9L527.9 153.1L525.8 155.3L523.8 157.5L521.8 159.8L519.7 162L517.7 164.2L515.6 166.4L513.6 168.6L511.5 170.8L509.5 173L507.4 175.2L505.4 177.4L503.3 179.7L501.3 181.9L499.2 184.1L497.2 186.3L495.1 188.5L493.1 190.7L491 192.9L489 195.1L487 197.4L484.9 199.6L482.9 201.8L480.8 204L478.6 206L476.3 207.9L473.9 209.7L471.4 211.4L468.8 213L466.3 214.6L463.7 216.2L461.1 217.7L458.5 219.2L455.9 220.7L453.3 222.2L450.6 223.5L447.9 224.9L445.2 226.1L442.4 227.4L439.7 228.6L436.9 229.8L434.1 231L431.4 232.2L428.6 233.4L427.2 234" stroke="#f00000" stroke-width="2.1"/>
<path d="M461.3 217.2L461.8 214.3L462.4 211.4L463.4 208.6L464.5 205.8L465.9 203.2L467.5 200.7L469.3 198.3L471.2 196L473.2 193.7L475.2 191.5L477.2 189.2L479.2 187L481.2 184.8L483.2 182.5L485.3 180.3L487.3 178.1L489.3 175.9L491.3 173.6L493.2 171.3L495.1 169L497 166.7L498.9 164.4L500.8 162L502.7 159.7L504.5 157.3L506.4 155L508.3 152.7L510.4 150.5L512.5 148.4L514.7 146.3L516.9 144.3L519 142.2L521.2 140.1L523.3 138L525.4 135.8L527.4 133.6L529.3 131.3L531.2 129L533.1 126.6L534.9 124.3L536.8 121.9L538.6 119.5L540.3 117.1L542.1 114.6L543.8 112.2L545.6 109.7L547.3 107.3L549.1 104.8L550.8 102.4L552.6 100L554.4 97.6L556.2 95.2L558 92.8L559.8 90.4L561.7 88.1L563.5 85.7L565.4 83.3L567.3 81L569.2 78.7L571.1 76.3L573 74L575 71.8L576.9 69.5L578.9 67.2L580.8 64.9L582.8 62.7L584.9 60.5L587 58.4L589.1 56.2L591.3 54.2L593.5 52.1L595.7 50.1L596.8 49.1" stroke="#f00000" stroke-width="2.1"/>
<path d="M596.8 49.1L595.4 51.8L594 54.4L592.6 57.1L591.2 59.7L589.9 62.4L588.6 65.1L587.2 67.8L585.7 70.4L584.2 73L582.4 75.4L580.6 77.8L578.8 80.2L576.9 82.5L575 84.9L573.2 87.3L571.3 89.6L569.6 92.1L567.8 94.5L566 96.9L564.3 99.4L562.5 101.8L560.8 104.3L559.1 106.8L557.4 109.3L555.8 111.8L554.1 114.3L552.4 116.8L550.8 119.3L549.1 121.8L547.4 124.3L545.8 126.8L544.1 129.3L542.4 131.8L540.8 134.3L539.1 136.7L537.2 139L535.2 141.2L533 143.2L530.9 145.4L528.9 147.6L526.9 149.8L524.9 152.1L522.9 154.3L521 156.6L519 158.8L517 161.1L515 163.4L513.1 165.7L511.1 167.9L509.1 170.2L507.2 172.5L505.2 174.7L503.2 177L501.2 179.3L499.3 181.5L497.3 183.8L495.3 186.1L493.3 188.3L491.3 190.6L489.4 192.8L487.4 195.1L485.4 197.4L483.5 199.7L481.6 202L479.6 204.2L477.4 206.3L475.1 208.2L472.7 210L470.3 211.7L467.7 213.4L465.2 214.9L462.6 216.5L461.3 217.2" stroke="#f00000" stroke-width="2.1"/>
<path d="M462.1 218.3L462.5 215.3L463.2 212.5L464.1 209.6L465.3 206.9L466.7 204.2L468.3 201.7L470.1 199.3L472 197L474 194.8L475.9 192.5L477.9 190.3L480 188L482 185.8L484 183.6L486 181.4L488 179.1L490 176.9L492 174.7L494 172.4L495.9 170.1L497.8 167.8L499.7 165.4L501.6 163.1L503.4 160.7L505.3 158.4L507.1 156L509.1 153.7L511.1 151.5L513.2 149.4L515.4 147.4L517.6 145.3L519.8 143.3L521.9 141.2L524.1 139L526.1 136.9L528.1 134.6L530.1 132.3L532 130L533.8 127.7L535.7 125.3L537.5 122.9L539.3 120.5L541.1 118.1L542.8 115.7L544.6 113.2L546.3 110.8L548.1 108.3L549.8 105.9L551.6 103.5L553.3 101L555.1 98.6L556.9 96.2L558.7 93.8L560.6 91.5L562.4 89.1L564.3 86.7L566.2 84.4L568 82.1L569.9 79.7L571.8 77.4L573.8 75.1L575.7 72.8L577.7 70.5L579.6 68.2L581.6 66L583.6 63.7L585.6 61.6L587.7 59.4L589.8 57.3L592 55.2L594.2 53.2L596.4 51.2L597.5 50.2" stroke="#f00000" stroke-width="2.1"/>
<path d="M595.9 48.4L594.5 51L593.1 53.7L591.7 56.3L590.3 59L589 61.7L587.7 64.4L586.3 67.1L584.8 69.7L583.3 72.2L581.5 74.7L579.7 77.1L577.9 79.4L576 81.8L574.1 84.1L572.3 86.5L570.4 88.9L568.7 91.3L566.9 93.7L565.1 96.2L563.4 98.6L561.6 101L559.9 103.5L558.2 106L556.5 108.5L554.9 111L553.2 113.5L551.5 116L549.9 118.5L548.2 121L546.5 123.5L544.9 126L543.2 128.5L541.5 131L539.9 133.5L538.2 136L536.3 138.3L534.3 140.4L532.1 142.5L530 144.6L528 146.8L526 149.1L524 151.3L522 153.6L520.1 155.8L518.1 158.1L516.1 160.4L514.1 162.6L512.2 164.9L510.2 167.2L508.2 169.5L506.3 171.7L504.3 174L502.3 176.3L500.3 178.5L498.4 180.8L496.4 183L494.4 185.3L492.4 187.6L490.4 189.8L488.5 192.1L486.5 194.4L484.5 196.6L482.6 199L480.7 201.3L478.7 203.5L476.5 205.6L474.2 207.5L471.8 209.3L469.4 211L466.8 212.6L464.3 214.2L461.7 215.7L460.4 216.5" stroke="#f00000" stroke-width="2.1"/>
<path d="M496.9 180.6L497.5 177.7L498.5 174.8L499.7 172.1L501.2 169.5L502.8 166.9L504.6 164.4L506.4 162L508.2 159.6L510.1 157.2L511.9 154.8L513.7 152.4L515.5 149.9L517.3 147.5L519.2 145.1L521.1 142.7L522.9 140.4L524.8 138L526.5 135.5L528.2 133L530 130.5L531.8 128.1L533.6 125.7L535.5 123.3L537.4 121L539.3 118.6L541.1 116.2L543 113.8L544.8 111.4L546.6 108.9L548.5 106.5L550.3 104.1L552.2 101.7L554 99.3L555.9 97L557.9 94.7L560.1 92.7L562.5 91L563.8 90.2" stroke="#f00000" stroke-width="2.1"/>
<path d="M563.8 90.2L563.1 93.2L562.3 96.1L561.3 99L560.1 101.8L558.9 104.5L557.5 107.2L556 109.9L554.5 112.5L552.9 115L551.2 117.6L549.6 120.1L547.9 122.6L546.2 125.1L544.4 127.6L542.7 130.1L541 132.5L539.1 134.6L537 136.3L534.7 137.8L532.4 139.5L530.3 141.6L528.3 143.8L526.4 146.1L524.5 148.5L522.5 150.8L520.6 153.1L518.7 155.5L516.8 157.8L514.8 160.2L512.9 162.5L511 164.8L509.1 167.2L507.1 169.5L505.2 171.9L503.3 174.2L501.2 176.4L499.1 178.6L496.9 180.6" stroke="#f00000" stroke-width="2.1"/>
<path d="M393.1 247.9L393.6 244.9L394.2 242L394.9 239.1L395.7 236.2L396.7 233.4L397.9 230.7L399.4 228.1L401.1 225.7L402.9 223.3L404.9 221.1L407 218.9L409.1 216.8L411.3 214.7L413.5 212.7L415.7 210.7L418 208.7L420.3 206.8L422.7 204.9L425.1 203.1L427.5 201.3L429.9 199.6L432.4 198L435 196.4L437.5 194.8L440.1 193.2L442.7 191.7L445.3 190.2L447.9 188.8L450.5 187.3L453.2 186L455.9 184.7L458.6 183.3L461.3 182L464 180.6L466.6 179.2L469.2 177.8L471.9 176.3L474.5 174.9L477.1 173.4L479.8 172L482.4 170.5L485 169L487.6 167.5L490.2 166L492.8 164.5L495.3 162.9L497.8 161.3L500.2 159.5L502.5 157.6L504.8 155.6L507 153.6L509.3 151.6L511.4 149.6L513.6 147.5L515.7 145.3L517.8 143.2L519.9 141L521.9 138.8L523.8 136.5L525.5 134.1L527.1 131.5L528.6 129L530.2 126.5L532 124.1L534 121.8L535.9 119.5L537.9 117.3L539.8 115L541.7 112.7L543.6 110.3L545.5 108L547.4 105.6L549.2 103.3L551.1 101L553 98.6L554.9 96.3L556.8 93.9L558.7 91.6L560.6 89.3L562.5 87L564.4 84.6L566.2 82.3L568.1 79.9L569.9 77.6L571.8 75.3L573.8 73L575.7 70.7L577.6 68.3L579.5 66L581.4 63.7L583.4 61.5L585.6 59.4L587.8 57.4L590.2 55.6L592.6 53.8L595 52L597.5 50.3L600 48.7L602.6 47.1L605.2 45.6L607.8 44.2L610.5 42.9L613.2 41.6L615.9 40.4L618.7 39.3L621.5 38.2L624.3 37.1L627.1 35.9L629.9 34.8L632.6 33.7L635.5 32.7L638.3 31.7L641.2 30.8L644 29.8L646.8 28.7L649.6 27.7L652.4 26.6L655.2 25.6L658 24.5L660.8 23.5L663.6 22.4L666.4 21.2" stroke="#0000ee" stroke-width="2.4" stroke-dasharray="8.2 6.3"/>
<path d="M666.4 21.2L666 24.2L665.4 27.1L664.5 29.9L663.3 32.7L662 35.3L660.4 37.9L658.7 40.3L656.8 42.7L654.9 44.9L652.9 47.1L650.8 49.3L648.6 51.4L646.5 53.5L644.2 55.4L641.8 57.3L639.4 59.1L637 60.8L634.5 62.5L632 64.1L629.5 65.7L626.9 67.3L624.3 68.8L621.7 70.2L619 71.6L616.4 73.1L613.8 74.6L611.4 76.3L609.2 78.3L607.1 80.5L605.1 82.7L603 84.8L600.9 86.9L598.5 88.7L596.1 90.4L593.5 92.1L591 93.6L588.4 95.2L585.8 96.6L583.2 98.1L580.6 99.5L578 101L575.3 102.3L572.6 103.3L569.7 103.9L567 104.6L564.3 105.8L561.8 107.3L559.4 109.1L557.1 111L555 113.1L552.8 115.2L550.8 117.4L548.9 119.7L546.9 122L545 124.3L543.2 126.7L541.3 129L539.4 131.3L537.5 133.7L535.6 136L533.7 138.2L531.5 140.3L529.3 142.3L527.1 144.3L524.9 146.4L522.9 148.6L521 150.9L519 153.1L517.1 155.4L515.1 157.7L513.2 160L511.2 162.2L509.3 164.5L507.3 166.8L505.4 169.1L503.4 171.4L501.5 173.7L499.7 176L497.9 178.5L496.2 180.9L494.6 183.4L492.9 185.9L491.1 188.3L489.3 190.7L487.5 193.1L485.6 195.4L483.7 197.7L481.7 200L479.8 202.3L477.8 204.6L475.8 206.7L473.6 208.8L471.2 210.6L468.8 212.4L466.4 214.1L463.9 215.8L461.4 217.5L458.9 219.2L456.4 220.8L453.8 222.4L451.2 223.8L448.6 225.3L445.9 226.7L443.2 228L440.5 229.2L437.8 230.4L435 231.6L432.3 232.8L429.5 233.9L426.7 235L423.9 236.1L421.1 237.2L418.3 238.2L415.5 239.2L412.7 240.3L409.9 241.4L407.1 242.5L404.3 243.6L401.5 244.7L398.7 245.8L395.9 246.8L393.1 247.9" stroke="#0000ee" stroke-width="2.4" stroke-dasharray="8.2 6.3" stroke-dashoffset="3"/>
<path d="M428.6 233.3L429.7 230.5L430.9 227.7L432.2 225L433.5 222.3L435 219.6L436.4 217L438 214.4L439.7 211.9L441.5 209.5L443.4 207.2L445.5 205L447.7 203L450 201L452.3 199.1L454.6 197.2L457 195.3L459.4 193.5L461.8 191.6L464.2 189.8L466.6 188L469 186.2L471.5 184.4L473.9 182.6L476.2 180.7L478.6 178.8L480.9 176.9L483.3 175L485.6 173.1L487.9 171.2L490.3 169.3L492.6 167.3L494.8 165.3L497 163.3L499.3 161.2L501.5 159.1L503.7 157.1L505.9 155L508 152.9L510.2 150.8L512.3 148.7L514.5 146.6L516.6 144.4L518.7 142.3L520.8 140.1L522.8 137.9L524.7 135.5L526.3 133L527.9 130.5L529.5 128L531.4 125.6L533.3 123.3L535.3 121L537.3 118.7L539.2 116.4L541.2 114.1L543.1 111.8L545 109.4L546.8 107.1L548.7 104.7L550.6 102.4L552.5 100L554.4 97.7L556.3 95.3L558.2 93L560.1 90.6L562 88.3L563.9 86L565.8 83.6L567.6 81.2L569.5 78.8L571.4 76.5L573.4 74.2L575.3 71.9L577.3 69.6L579.2 67.3L581.2 65.1L583.3 62.9L585.5 60.8L587.7 58.8L590.1 56.9L592.5 55.1L594.9 53.3L596.1 52.4" stroke="#0000ee" stroke-width="2.4" stroke-dasharray="8.2 6.3" stroke-dashoffset="4"/>
<path d="M632.8 33.3L632.4 36.3L632.1 39.3L631.6 42.2L630.9 45.1L629.8 47.8L628.3 50.4L626.5 52.7L624.5 55L622.4 57.1L620.3 59.2L618.1 61.2L615.9 63.3L613.8 65.4L611.7 67.6L609.7 69.8L607.6 72L605.5 74.1L603.3 76.1L600.9 78L598.5 79.8L596.1 81.6L593.7 83.4L591.3 85.2L588.9 87L586.5 88.8L584.1 90.6L581.7 92.4L579.3 94.2L576.9 96L574.5 97.8L572.2 99.7L569.9 101.6L567.8 103.6L565.6 105.6L563.2 107.4L560.8 109.2L558.5 111.1L556.3 113.1L554.2 115.2L552.1 117.3L550.1 119.6L548.2 121.9L546.3 124.2L544.4 126.6L542.5 128.9L540.6 131.2L538.8 133.6L536.9 135.9L534.9 138.2L532.9 140.4L530.7 142.4L528.4 144.3L526.2 146.4L524.2 148.5L522.2 150.8L520.2 153.1L518.3 155.4L516.3 157.6L514.4 159.9L512.4 162.2L510.5 164.5L508.5 166.8L506.6 169.1L504.6 171.3L502.7 173.7L500.8 176L499 178.4L497.3 180.8L495.7 183.4L494 185.8L492.3 188.3L490.4 190.7L488.6 193.1L486.7 195.4L484.8 197.7L482.9 200L480.9 202.3L478.9 204.5L476.9 206.7L474.7 208.7L472.4 210.6L469.9 212.4L467.5 214.1L465 215.8" stroke="#0000ee" stroke-width="2.4" stroke-dasharray="8.2 6.3" stroke-dashoffset="1"/>
<path d="M463.4 214.7L464.4 211.8L465.4 209L466.5 206.2L467.7 203.5L469.1 200.8L470.7 198.3L472.4 195.8L474.2 193.4L476.1 191.1L478 188.8L480 186.5L482.1 184.3L484.2 182.2L486.3 180L488.4 177.9L490.5 175.7L492.5 173.5L494.5 171.2L496.4 168.9L498.3 166.5L500.2 164.2L502 161.8L503.9 159.5L505.8 157.1L507.7 154.8L509.7 152.5L511.7 150.3L513.7 148.1L515.8 145.9L517.9 143.8L520 141.6L522.1 139.4L524 137.1L525.7 134.7L527.3 132.2L528.9 129.6L530.7 127.2L532.6 124.9L534.5 122.6L536.5 120.4L538.5 118.1L540.4 115.8L542.3 113.4L544.2 111.1L546.1 108.8L548 106.4L549.9 104.1L551.8 101.7L553.6 99.4L555.5 97L557.4 94.7L559.3 92.4L561.3 90L563.2 87.7L565 85.3L566.9 83L568.7 80.6L570.6 78.3L572.5 75.9L574.5 73.6L576.5 71.4L578.4 69.1L580.5 66.9L582.5 64.7L584.7 62.6L586.9 60.6L589.3 58.8L591.8 57.1L594.3 55.4L596.8 53.7" stroke="#0000ee" stroke-width="2.4" stroke-dasharray="8.2 6.3" stroke-dashoffset="6"/>
<path d="M596.8 53.7L596 56.6L595.2 59.6L594.5 62.5L593.6 65.4L592.6 68.2L591.3 70.9L589.8 73.4L588 75.8L586.1 78.2L584.1 80.5L582.1 82.7L580.1 85L578 87.1L575.9 89.3L573.9 91.5L571.8 93.7L569.8 96L567.8 98.2L565.7 100.4L563.7 102.6L561.7 104.9L559.7 107.1L557.6 109.3L555.4 111.4L553.3 113.5L551.2 115.7L549.2 117.9L547.2 120.2L545.3 122.5L543.5 124.9L541.6 127.2L539.7 129.6L537.8 131.9L535.9 134.3L534 136.6L531.9 138.7L529.7 140.8L527.4 142.7L525.2 144.8L523.2 147L521.2 149.2L519.2 151.5L517.2 153.8L515.3 156.1L513.3 158.4L511.4 160.7L509.4 163L507.4 165.3L505.5 167.6L503.5 169.9L501.6 172.2L499.7 174.5L497.9 176.9L496.2 179.4L494.6 181.9L492.9 184.4L491.1 186.9L489.3 189.3L487.5 191.7L485.6 194L483.8 196.4L482 198.9L480.3 201.4L478.7 203.9L476.9 206.3L475 208.6L472.8 210.5L470.3 212.1L467.6 213.5L464.8 214.6L463.4 215.2" stroke="#0000ee" stroke-width="2.4" stroke-dasharray="8.2 6.3" stroke-dashoffset="2"/>
<path d="M496.2 181.5L497.1 178.6L498.1 175.9L499.5 173.2L501.1 170.7L502.7 168.2L504.5 165.8L506.3 163.4L508.1 161L509.9 158.6L511.7 156.2L513.5 153.8L515.3 151.4L517.1 149L518.9 146.6L520.7 144.2L522.5 141.8L524.3 139.4L526 136.9L527.4 134.3L528.7 131.6L530 128.9L531.5 126.4L533.3 124L535.3 121.7L537.2 119.5L539.2 117.2L541.1 114.9L543 112.6L544.9 110.2L546.8 107.9L548.6 105.5L550.5 103.2L552.4 100.8L554.3 98.5L556.2 96.2L558.1 93.9L560.1 91.6L562.1 89.4L563.1 88.3" stroke="#0000ee" stroke-width="2.4" stroke-dasharray="8.2 6.3" stroke-dashoffset="5"/>
<path d="M563.1 88.3L562.7 91.3L562.1 94.2L561.4 97.2L560.6 100.1L559.5 102.9L558.4 105.7L557.1 108.4L555.7 111.1L554.1 113.7L552.4 116.1L550.5 118.4L548.5 120.7L546.6 123.1L544.7 125.4L542.8 127.8L540.9 130.2L539 132.5L537.1 134.9L535.1 137.2L533.1 139.4L530.9 141.5L528.7 143.5L526.4 145.5L524.3 147.6L522.3 149.9L520.3 152.2L518.3 154.5L516.4 156.8L514.4 159.1L512.4 161.4L510.5 163.7L508.5 166L506.5 168.3L504.6 170.6L502.6 172.9L500.7 175.2L498.8 177.6L496.9 179.9" stroke="#0000ee" stroke-width="2.4" stroke-dasharray="8.2 6.3" stroke-dashoffset="0"/>
</g>
<rect x="380.5" y="4.5" width="117" height="29" fill="#fff" stroke="#333" stroke-width="1"/>
<path d="M382.7 12.3h20" stroke="#f00000" stroke-width="2.2" fill="none"/>
<path d="M382.7 25.7h20" stroke="#0000ee" stroke-width="2.3" stroke-dasharray="8.2 7" fill="none"/>
<g font-size="11.66" fill="#000" stroke="#000" stroke-width="0.12">
<text x="404" y="16.6">Experimental result</text>
<text x="404" y="29.7">Simulation result</text>
</g>
<text x="391" y="303" font-size="15.9" fill="#000" stroke="#000" stroke-width="0.15">(d) Comparison of results with condition 4</text>
</g>
<g id="panel-e">
<clipPath id="cpe"><rect x="371.5" y="328.5" width="312" height="272"/></clipPath>
<g fill="none" stroke="#5c5c5c" stroke-width="1">
<rect x="371.5" y="328.5" width="312" height="272" stroke="#9a9a9a"/>
<path d="M371.5 464.5H683.5M527.5 328.5V600.5"/>
<path d="M388.5 464.5v-3.5M422.5 464.5v-3.5M457.5 464.5v-3.5M492.5 464.5v-3.5M561.5 464.5v-3.5M596.5 464.5v-3.5M631.5 464.5v-3.5M666.5 464.5v-3.5M527.5 577.5h3.5M527.5 539.5h3.5M527.5 501.5h3.5M527.5 426.5h3.5M527.5 388.5h3.5M527.5 350.5h3.5"/>
</g>
<g font-size="12.48" fill="#000" stroke="#000" stroke-width="0.12">
<text x="387.3" y="480.1" text-anchor="middle">-8</text>
<text x="422.1" y="480.1" text-anchor="middle">-6</text>
<text x="456.8" y="480.1" text-anchor="middle">-4</text>
<text x="491.6" y="480.1" text-anchor="middle">-2</text>
<text x="562.2" y="480.1" text-anchor="middle">2</text>
<text x="597" y="480.1" text-anchor="middle">4</text>
<text x="631.7" y="480.1" text-anchor="middle">6</text>
<text x="666.5" y="480.1" text-anchor="middle">8</text>
<text x="523.9" y="581.6" text-anchor="end">-150</text>
<text x="523.9" y="543.9" text-anchor="end">-100</text>
<text x="523.9" y="506.2" text-anchor="end">-50</text>
<text x="523.9" y="430.8" text-anchor="end">50</text>
<text x="523.9" y="393.1" text-anchor="end">100</text>
<text x="523.9" y="355.4" text-anchor="end">150</text>
</g>
<g font-size="15.57" fill="#000" stroke="#000" stroke-width="0.15">
<text x="535" y="347">force/kN</text>
<text x="563" y="492.5">displacement/mm</text>
</g>
<g clip-path="url(#cpe)" fill="none" stroke-linejoin="round" stroke-linecap="butt">
<path d="M388.1 582.7L388.3 579.7L388.5 576.6L388.9 573.6L389.5 570.7L390.1 567.7L390.9 564.8L392 562L393.2 559.2L394.5 556.5L396 553.9L397.6 551.3L399.2 548.8L401 546.3L402.8 543.9L404.6 541.5L406.5 539.1L408.4 536.8L410.5 534.6L412.6 532.4L414.8 530.3L416.9 528.1L419.2 526.1L421.4 524.1L423.7 522.1L426 520.2L428.5 518.4L431 516.7L433.6 515.1L436.2 513.6L438.9 512.3L441.7 511.1L444.5 510L447.3 508.8L450.1 507.7" stroke="#f00000" stroke-width="2.1"/>
<path d="M666.4 337.8L666.8 340.7L666.8 343.7L666.4 346.6L665.8 349.6L665.2 352.5L664.4 355.4L663.5 358.3L662.5 361.1L661.4 363.9L660.3 366.6L659 369.4L657.6 372L656.2 374.6L654.7 377.3L653.1 379.8L651.3 382.2L649.5 384.6L647.7 387L645.8 389.3L643.7 391.5L641.6 393.6L639.5 395.7L637.2 397.7L634.9 399.5L632.5 401.3L630 403.1L627.6 404.8L625.1 406.5L622.6 408.1L620 409.7L617.5 411.3L614.9 412.9L612.4 414.4L609.8 416L607.2 417.5L604.7 419.1L602.1 420.7L599.5 422.2L596.8 423.5L594.1 424.7L591.3 425.7L588.4 426.7L585.7 427.9L583 429.3L580.4 430.8L577.9 432.4L575.4 434.1L573 435.9L570.6 437.7L568.3 439.5L566 441.5L563.8 443.5L561.6 445.5L559.4 447.6L557.3 449.7L555.2 451.9L553.2 454.1L551.2 456.4L549.2 458.6L547.2 460.9L545.2 463.1L543.2 465.3L541.1 467.5L539 469.6L536.8 471.6L534.6 473.7L532.4 475.8L530.2 477.8L528.1 479.9L525.9 482L523.8 484.1L521.6 486.2L519.5 488.3L517.3 490.4L515.1 492.4L513 494.5L510.9 496.6L508.7 498.8L506.6 500.9L504.5 503L502.3 505.1L500.2 507.2L498 509.2L495.8 511.3L493.7 513.4L491.5 515.5L489.3 517.6L487.1 519.6L485 521.7L482.8 523.8L480.7 525.9L478.6 528.1L476.6 530.3L474.8 532.7L473 535.1L471.2 537.5L469.5 539.9L467.7 542.3L465.7 544.6L463.7 546.8L461.5 548.9L459.2 550.7L456.6 552.3L454 553.8L451.4 555.2L448.7 556.5L446 557.9L443.3 559.3L440.7 560.6L438 561.9L435.3 563.3L432.6 564.6L429.9 565.9L427.2 567.2L424.5 568.5L421.7 569.7L419 570.9L416.2 572L413.4 573.2L410.6 574.3L407.9 575.4L405.1 576.6L402.3 577.7L399.5 578.7L396.6 579.7L393.8 580.7L391 581.7L388.1 582.7" stroke="#f00000" stroke-width="2.1"/>
<path d="M423 568.1L423.3 565.1L423.6 562.1L423.9 559.1L424.4 556.1L425 553.2L425.7 550.3L426.7 547.4L427.8 544.6L429.2 542L430.7 539.4L432.4 536.9L434.2 534.5L436.1 532.2L438.2 530.1L440.4 527.9L442.5 525.9L444.8 523.9L447.2 522L449.5 520.1L451.8 518.1L454 516.1L456.2 514L458.4 512L460.6 510L463 508.1L465.3 506.3L467.8 504.5L470.3 502.8L472.8 501.1L475.2 499.4L477.7 497.7L480.1 495.9L482.6 494.2L485 492.3L487.3 490.5L489.7 488.6L492.1 486.8L494.4 484.8L496.7 482.9L499 480.9L501.2 478.9L503.3 476.8L505.5 474.7L507.6 472.6L509.7 470.4L511.9 468.3L514 466.1L516 463.9L518 461.7L519.9 459.4L521.9 457.1L523.8 454.7L525.6 452.4L527.5 450L529.4 447.7L531.3 445.4L533.2 443L535.1 440.7L537.1 438.4L539 436.1L540.9 433.8L542.8 431.4L544.7 429.1L546.6 426.7L548.4 424.4L550.3 422L552.1 419.6L553.9 417.2L555.7 414.8L557.6 412.4L559.5 410.1L561.4 407.8L563.4 405.5L565.4 403.3L567.5 401.1L569.5 398.9L571.6 396.7L573.6 394.5L575.5 392.1L577.1 389.6L578.7 387.1L580.2 384.5L581.8 381.9L583.5 379.5L585.6 377.3L587.8 375.4L590.2 373.6L592.8 372.1L595.5 370.6L598.1 369.2L600.8 367.8L603.4 366.4L606.1 365L608.8 363.7L611.6 362.5L614.3 361.2L617 360L619.8 358.8L622.5 357.5L625.3 356.3L628 354.9L630.7 353.6L633.4 352.3L636.1 351.1L638.9 349.9L641.6 348.7L644.4 347.5L647.2 346.2L649.9 345L652.7 343.8L655.4 342.6L658.2 341.4L660.9 340.2L663.7 339L666.4 337.8" stroke="#f00000" stroke-width="2.1"/>
<path d="M492.9 487.2L495.2 485.3L497.5 483.3L499.8 481.3L502 479.3L504.1 477.2L506.3 475.1L508.4 473L510.5 470.8L512.7 468.7L514.7 466.5L516.8 464.3L518.7 462L520.7 459.7L522.6 457.4L524.6 455.1L526.5 452.8L528.4 450.5L530.3 448.1L532.2 445.8L534.1 443.5L536 441.2L538 438.9L539.9 436.6L541.8 434.2L543.7 431.9L545.6 429.6L547.5 427.2L549.4 424.9L551.2 422.5L553 420.1L554.8 417.6L556.6 415.3L558.5 412.9L560.4 410.6L562.3 408.2L564.3 406L566.3 403.7L568.4 401.5L570.4 399.3L572.5 397.1L574.5 394.9L576.4 392.6L578.1 390.2L579.7 387.6L581.2 385L582.8 382.5L584.6 380.1L586.8 378L589.1 376.1L591.5 374.4L594.1 372.8L596.7 371.3L599.3 369.9L602 368.4L604.6 367L607.3 365.6L610 364.3L612.7 363.1L615.5 361.8L618.2 360.6L621 359.4L623.7 358.1L626.4 356.8L629 355.3L631.6 353.8" stroke="#f00000" stroke-width="2.1"/>
<path d="M631.6 353.6L631.5 356.6L631.3 359.6L631 362.6L630.5 365.5L629.9 368.5L629.1 371.4L628.1 374.2L627 377L625.7 379.7L624.2 382.3L622.7 384.9L621 387.4L619.2 389.8L617.2 392.1L615.2 394.4L613.2 396.6L611.1 398.7L608.9 400.7L606.6 402.7L604.3 404.7L602 406.6L599.6 408.4L597.1 410.2L594.7 411.9L592.1 413.6L589.5 415L586.8 416.4L584.2 417.8L581.6 419.4L579.2 421.1L576.9 423.1L574.7 425.1L572.4 427.2L570.2 429.2L568.1 431.3L566 433.5L564 435.8L562 438L560 440.3L558 442.5L556.1 444.8L554.1 447.1L552.2 449.4L550.2 451.7L548.2 454L546.3 456.3L544.3 458.6L542.3 460.9L540.4 463.1L538.4 465.4L536.5 467.7L534.5 470L532.5 472.3L530.6 474.6L528.6 476.8L526.5 479.1L524.5 481.2L522.4 483.4L520.3 485.6L518.1 487.7L516 489.8L513.9 492L511.7 494.1L509.6 496.2L507.5 498.4L505.3 500.5L503.2 502.6L501.1 504.8L499 506.9L496.8 509L494.7 511.2L492.6 513.3L490.4 515.4L488.2 517.5L486.1 519.6L483.9 521.7L481.8 523.8L479.7 526L477.7 528.2L475.8 530.6L474 533L472.2 535.5L470.5 537.9L468.7 540.4L466.9 542.7L464.9 545L462.9 547.2L460.6 549.2L458.2 550.9L455.6 552.4L452.9 553.8L450.2 555.1L447.5 556.5L444.8 557.8L442.1 559.2L439.4 560.5L436.7 561.9L434 563.2L431.2 564.4L428.5 565.6L425.7 566.8L423 568.1" stroke="#f00000" stroke-width="2.1"/>
<path d="M458.2 551.3L458.4 548.3L458.6 545.3L458.9 542.3L459.4 539.4L459.9 536.4L460.6 533.5L461.5 530.6L462.6 527.8L463.7 525L465.1 522.4L466.8 520L468.7 517.6L470.7 515.4L472.8 513.2L474.9 511.1L477.1 508.9L479.2 506.8L481.3 504.7L483.5 502.5L485.6 500.4L487.7 498.3L489.8 496.2L492 494L494 491.8L496.1 489.6L498.1 487.4L500.2 485.2L502.2 482.9L504.2 480.7L506.2 478.4L508.1 476.1L510.1 473.9L512.1 471.6L514 469.3L515.9 466.9L517.8 464.6L519.7 462.2L521.5 459.8L523.3 457.4L525.2 455L527 452.7L529 450.4L531 448.2L533.1 445.9L535.1 443.7L537.1 441.5L539 439.2L541 436.8L542.9 434.5L544.8 432.2L546.7 429.8L548.6 427.5L550.4 425.1L552.3 422.7L554.1 420.3L555.9 417.9L557.7 415.5L559.6 413.2L561.5 410.8L563.4 408.5L565.4 406.2L567.4 404L569.4 401.8L571.5 399.6L573.6 397.4L575.6 395.2L577.5 392.9L579.2 390.4L580.7 387.8L582.2 385.2L583.7 382.6L585.6 380.3L587.8 378.3L590.1 376.3L592.5 374.6L595.1 372.9L596.3 372.1" stroke="#f00000" stroke-width="2.1"/>
<path d="M596.3 372.1L596.1 375.1L595.9 378.1L595.4 381.1L594.8 384.1L594 387L593.1 389.8L591.9 392.6L590.7 395.3L589.1 397.8L587 399.7L584.6 401.4L582.2 403.2L580 405.2L577.7 407.2L575.4 409.1L573.1 411.1L570.8 413.1L568.7 415.2L566.6 417.4L564.6 419.6L562.7 422L560.9 424.4L559.3 426.9L557.6 429.4L556 432L554.5 434.6L553 437.2L551.5 439.8L550 442.4L548.4 445L546.8 447.5L545.2 450.1L543.5 452.6L541.9 455.1L540.2 457.6L538.5 460.1L536.8 462.6L535 465.1L533.3 467.5L531.6 470L529.8 472.4L528 474.9L526.1 477.2L524.1 479.4L522.1 481.7L520 483.9L518 486.1L515.9 488.2L513.8 490.4L511.7 492.6L509.5 494.7L507.4 496.8L505.3 499L503.1 501.1L501 503.2L498.9 505.3L496.7 507.5L494.6 509.6L492.5 511.7L490.3 513.9L488.2 516L486.1 518.1L483.9 520.3L481.8 522.4L479.7 524.5L477.5 526.7L475.4 528.8L473.2 530.9L471.1 533L468.9 535.1L466.9 537.3L464.9 539.6L463.3 542.1L461.8 544.7L460.4 547.4L459 550L458.2 551.3" stroke="#f00000" stroke-width="2.1"/>
<path d="M492.5 515.6L492.8 512.6L493.1 509.7L493.5 506.7L494 503.7L494.7 500.8L495.5 498L496.7 495.2L497.9 492.5L499.4 489.9L501.1 487.4L502.8 484.9L504.6 482.5L506.4 480.1L508.2 477.7L510 475.3L511.8 472.9L513.6 470.5L515.4 468.1L517.2 465.7L519 463.2L520.7 460.8L522.5 458.4L524.3 456L526.2 453.7L528.3 451.6L530.6 449.6L532.8 447.6L535.1 445.6L537.3 443.6L539.4 441.5L541.4 439.2L543.3 436.9L545.2 434.6L547.1 432.3L549 429.9L550.9 427.6L552.8 425.2L554.6 422.8L556.4 420.4L558.1 418L559.6 415.4L560.7 412.6L561.2 411.2" stroke="#f00000" stroke-width="2.1"/>
<path d="M561.2 411.2L561.1 414.2L560.9 417.2L560.5 420.2L560 423.1L559.3 426.1L558.5 428.9L557.3 431.7L556 434.3L554.6 437L553.1 439.6L551.4 442.1L549.7 444.5L547.9 446.9L546 449.3L544.2 451.6L542.3 454L540.5 456.4L538.7 458.8L536.9 461.2L535 463.5L533.1 465.9L531.2 468.2L529.3 470.5L527.4 472.8L525.4 475L523.4 477.3L521.4 479.5L519.4 481.7L517.4 483.9L515.3 486.1L513.3 488.3L511.2 490.5L509.2 492.8L507.2 495L505.2 497.2L503.3 499.5L501.4 501.8L499.5 504.2L497.7 506.5L495.9 509L494.4 511.6L493.2 514.3L492.5 515.6" stroke="#f00000" stroke-width="2.1"/>
<path d="M527.5 464.3L527.5 451.5" stroke="#0000ee" stroke-width="2.4" stroke-dasharray="8.2 6.3" stroke-dashoffset="2"/>
<path d="M389.1 582L389.3 579L389.5 576L389.8 573L390.3 570L390.8 567.1L391.4 564.1L392.2 561.2L393.3 558.4L394.5 555.7L396 553.1L397.7 550.7L399.5 548.3L401.5 546L403.6 543.8L405.7 541.7L407.9 539.6L410.2 537.6L412.5 535.7L414.8 533.8L417.2 531.9L419.6 530.2L422.1 528.4L424.6 526.8L427.1 525.1L429.6 523.6L432.2 522L434.9 520.6L437.6 519.2L440.2 517.9L442.9 516.5L445.6 515.2L448.4 514L451.2 512.9L454.1 512.1L457 511.4L459.9 510.7L462.8 510L465.7 509L468.5 507.8L471.1 506.4L473.6 504.8L476.2 503.2L478.7 501.5L481.1 499.8L483.5 497.9L485.8 496L488 494L490.3 492L492.5 489.9L494.6 487.8L496.8 485.7L498.9 483.6L501 481.4L503 479.1L504.9 476.9L506.9 474.6L508.8 472.3L510.8 470L512.8 467.7L514.7 465.4L516.7 463.2L518.6 460.9L520.6 458.6L522.5 456.3L524.4 453.9L526.3 451.6L528.2 449.3L530.2 447L532.1 444.7L534.1 442.4L536.1 440.1L538 437.9L540 435.6L542 433.3L543.9 431L545.9 428.7L547.8 426.4L549.8 424.1L551.7 421.9L553.7 419.6L555.6 417.2L557.5 414.9L559.4 412.5L561.3 410.2L563.3 408L565.3 405.7L567.4 403.5L569.5 401.4L571.6 399.2L573.7 397.1L575.8 395L578 392.9L580.1 390.7L582.2 388.6L584.1 386.3L585.9 383.9L587.6 381.4L589.5 379.1L591.8 377.3L594.4 375.8L597.1 374.5L599.8 373.1L602.5 371.8L605.2 370.5L607.9 369.2L610.6 367.8L613.3 366.5L616 365.2L618.7 363.9L621.5 362.6L624.2 361.4L626.9 360.1L629.6 358.8L632.4 357.5L635.1 356.4L637.9 355.3L640.8 354.2L643.6 353.2L646.4 352.1L649.2 351.1L652.1 350.1L654.9 349.1L657.7 348.1L660.6 347.1L663.4 346.1" stroke="#0000ee" stroke-width="2.4" stroke-dasharray="8.2 6.3"/>
<path d="M663.4 346.1L663.6 349.1L663.6 352.2L663.4 355.2L663 358.1L662.4 361.1L661.7 364L660.9 366.9L659.9 369.7L658.8 372.5L657.5 375.2L656 377.8L654.4 380.4L652.6 382.8L650.6 385L648.4 387.1L646.2 389.2L643.8 391L641.4 392.7L638.8 394.3L636.3 395.9L633.7 397.5L631.2 399.1L628.6 400.7L626.1 402.3L623.5 403.9L620.9 405.4L618.3 406.9L615.6 408.2L612.9 409.6L610.2 410.9L607.5 412.3L604.9 413.7L602.3 415.2L599.7 416.7L597.1 418.2L594.4 419.7L591.8 421.1L589.1 422.4L586.4 423.8L583.7 425.1L581 426.5L578.3 427.8L575.7 429.4L573.2 430.9L570.6 432.5L568 434.1L565.3 435.4L562.7 436.9L560.2 438.5L557.9 440.4L555.6 442.3L553.4 444.5L551.5 446.7L549.5 449L547.5 451.3L545.6 453.6L543.6 455.9L541.7 458.1L539.6 460.4L537.5 462.5L535.4 464.6L533.2 466.8L531.1 468.8L528.9 470.9L526.8 473.1L524.9 475.4L522.9 477.7L520.9 480L519 482.2L516.9 484.4L514.9 486.6L512.8 488.8L510.8 491L508.7 493.3L506.7 495.5L504.7 497.8L502.8 500L500.8 502.3L498.8 504.6L496.8 506.8L494.7 509L492.7 511.2L490.6 513.4L488.6 515.7L486.6 517.9L484.6 520.1L482.5 522.3L480.5 524.5L478.5 526.8L476.7 529.2L475 531.7L473.5 534.3L472 536.9L470.4 539.5L468.8 542L467.1 544.5L465 546.7L462.8 548.6L460.4 550.4L457.9 552.1L455.3 553.7L452.7 555.2L450.1 556.7L447.5 558.2L444.9 559.7L442.2 561L439.5 562.4L436.8 563.7L434.1 565L431.4 566.3L428.7 567.6L425.9 568.9L423.2 570.2L420.4 571.3L417.6 572.4L414.8 573.4L412 574.5L409.1 575.5L406.3 576.4L403.4 577.4L400.6 578.4L397.7 579.3L394.8 580.2L391.9 581.1L389.1 582" stroke="#0000ee" stroke-width="2.4" stroke-dasharray="8.2 6.3" stroke-dashoffset="3"/>
<path d="M425.7 568.8L426.5 565.8L427.1 562.9L427.5 559.9L427.8 556.9L428.2 554L428.7 551L429.3 548.1L430.1 545.2L431.4 542.6L433 540L434.7 537.5L436.7 535.4L438.9 533.4L441.2 531.4L443.5 529.5L445.9 527.6L448.2 525.8L450.5 523.8L452.8 521.9L455.1 520L457.4 518L459.8 516.2L462.2 514.4L464.6 512.6L467.1 510.9L469.6 509.2L472 507.4L474.4 505.6L476.8 503.8L479.2 502.1L481.6 500.2L483.9 498.3L486.2 496.3L488.4 494.3L490.7 492.4L492.9 490.3L495.1 488.2L497.2 486.1L499.3 484L501.4 481.8L503.4 479.5L505.3 477.3L507.3 475L509.2 472.7L511.2 470.4L513.1 468.1L515.1 465.9L517 463.6L519 461.3L520.9 459L522.9 456.7L524.8 454.4L526.6 452L528.6 449.7L530.5 447.4L532.5 445.2L534.4 442.9L536.4 440.6L538.4 438.3L540.3 436L542.3 433.8L544.2 431.5L546.2 429.2L548.1 426.9L550.1 424.6L552 422.4L554 420.1L555.9 417.8L557.8 415.4L559.7 413.1L561.6 410.7L563.5 408.5L565.6 406.3L567.6 404.1L569.7 401.9L571.8 399.8L574 397.7L576.1 395.5L578.2 393.4L580.3 391.3L582.5 389.2L584.4 386.9L586.2 384.5L588 382.1L589.8 379.8L592.2 378L594.7 376.5L597.4 375L600.1 373.7L602.8 372.4L605.5 371L608.2 369.7L610.9 368.4L613.5 367L616.2 365.7L619 364.4L621.7 363.2L624.4 361.9L627.1 360.5L629.7 359L630.9 358.2" stroke="#0000ee" stroke-width="2.4" stroke-dasharray="8.2 6.3" stroke-dashoffset="5"/>
<path d="M630.9 358.2L630.9 361.2L630.8 364.2L630.7 367.2L630.4 370.2L630.1 373.2L629.7 376.2L629.1 379.2L628.2 382L627.1 384.8L625.3 387.1L623.2 389.2L621 391.3L618.7 393.2L616.3 395L613.9 396.8L611.4 398.6L609 400.5L606.7 402.4L604.5 404.4L602.5 406.7L600.5 408.9L598.5 411.2L596.4 413.3L594.1 415.3L591.7 417L589.1 418.6L586.6 420.2L584 421.8L581.5 423.4L578.9 425L576.4 426.8L574 428.6L571.6 430.4L569.2 432.2L566.8 434L564.3 435.7L561.9 437.6L559.6 439.5L557.3 441.4L555.1 443.5L553 445.6L551 447.8L549 450.1L547 452.4L545.1 454.7L543.2 457L541.3 459.4L539.2 461.6L537.1 463.7L535 465.8L532.8 467.9L530.7 470L528.5 472.2L526.5 474.4L524.5 476.6L522.5 478.9L520.6 481.2L518.6 483.5L516.5 485.7L514.5 487.9L512.4 490.1L510.4 492.3L508.3 494.5L506.3 496.8L504.3 499L502.4 501.3L500.4 503.6L498.4 505.9L496.4 508.1L494.3 510.3L492.3 512.5L490.2 514.7L488.2 516.9L486.2 519.2L484.1 521.4L482.1 523.6L480 525.8L478.1 528.1L476.3 530.6L474.7 533.1L473.1 535.6L471.5 538.2L469.9 540.7L468.2 543.2L466.2 545.5L464.1 547.6L461.8 549.5L460.6 550.4" stroke="#0000ee" stroke-width="2.4" stroke-dasharray="8.2 6.3" stroke-dashoffset="1"/>
<path d="M459.4 550.6L459.8 547.7L460.1 544.7L460.6 541.7L461.1 538.8L461.7 535.8L462.4 532.9L463.3 530.1L464.4 527.3L465.6 524.5L466.9 521.8L468.6 519.4L470.5 517.1L472.5 514.8L474.5 512.6L476.6 510.4L478.6 508.2L480.6 506L482.7 503.7L484.7 501.5L486.7 499.3L488.6 497L490.5 494.6L492.4 492.3L494.4 490L496.4 487.8L498.5 485.7L500.6 483.5L502.6 481.3L504.6 479L506.5 476.7L508.5 474.4L510.4 472.2L512.4 469.9L514.3 467.6L516.3 465.3L518.2 463L520.2 460.7L522.1 458.5L524 456.1L525.9 453.8L527.8 451.4L529.8 449.2L531.7 446.9L533.7 444.6L535.7 442.3L537.6 440.1L539.6 437.8L541.5 435.5L543.5 433.2L545.4 430.9L547.4 428.6L549.3 426.4L551.3 424.1L553.3 421.8L555.2 419.5L557.1 417.2L559 414.8L560.8 412.5L562.8 410.2L564.8 407.9L566.8 405.7L568.9 403.6L571 401.4L573.1 399.3L575.2 397.2L577.4 395L579.5 392.9L581.6 390.8L583.7 388.7L585.7 386.4L587.4 384L589.2 381.6L591.3 379.4L593.7 377.6L596.1 375.9" stroke="#0000ee" stroke-width="2.4" stroke-dasharray="8.2 6.3" stroke-dashoffset="6"/>
<path d="M596.1 375.9L596 378.9L596 381.9L595.9 384.9L595.7 387.9L595.4 390.9L595.1 393.8L594.6 396.8L593.5 399.5L591.9 402L590.3 404.5L588.6 407.1L586.8 409.5L584.8 411.7L582.7 413.8L580.6 415.9L578.5 418.1L576.3 420.2L574.2 422.3L572.1 424.4L569.9 426.6L567.8 428.7L565.7 430.8L563.6 432.9L561.4 435.1L559.4 437.2L557.3 439.5L555.4 441.7L553.4 444L551.5 446.3L549.6 448.6L547.6 450.9L545.6 453.2L543.6 455.4L541.5 457.6L539.4 459.8L537.3 461.9L535.2 464L533.1 466.1L530.9 468.2L528.7 470.3L526.7 472.5L524.7 474.7L522.7 477L520.8 479.3L518.8 481.6L516.8 483.8L514.7 486L512.7 488.2L510.6 490.4L508.6 492.6L506.6 494.8L504.6 497.1L502.6 499.4L500.6 501.6L498.7 503.9L496.7 506.1L494.6 508.3L492.6 510.5L490.5 512.7L488.5 515L486.5 517.2L484.4 519.4L482.4 521.6L480.3 523.8L478.3 526L476.2 528.2L474.1 530.3L472 532.5L469.9 534.6L467.8 536.8L465.7 538.9L463.7 541.1L462.2 543.7L461.1 546.5L460 549.3L459.4 550.6" stroke="#0000ee" stroke-width="2.4" stroke-dasharray="8.2 6.3" stroke-dashoffset="2"/>
<path d="M493.2 514.5L493.5 511.5L493.9 508.4L494.2 505.4L494.6 502.4L495 499.4L495.5 496.4L496.1 493.5L496.9 490.5L498 487.8L499.6 485.2L501.3 482.7L503.2 480.3L505.1 478L507 475.7L509 473.4L511 471.1L513 468.7L514.9 466.4L516.9 464.1L518.9 461.8L520.8 459.5L522.8 457.2L524.7 454.9L526.6 452.5L528.5 450.2L530.5 447.9L532.5 445.6L534.5 443.3L536.4 441L538.4 438.7L540.4 436.4L542.4 434.1L544.3 431.8L546.3 429.5L548.3 427.2L550.2 424.9L552.2 422.5L554.2 420.2L556 417.8L557.9 415.4L559.7 413L561.5 410.5" stroke="#0000ee" stroke-width="2.4" stroke-dasharray="8.2 6.3" stroke-dashoffset="5"/>
<path d="M561.5 410.5L561.3 413.6L561.1 416.6L560.8 419.6L560.4 422.6L559.9 425.6L559.3 428.5L558.2 431.4L557 434.1L555.5 436.7L553.8 439.2L552 441.7L550.2 444.1L548.3 446.4L546.4 448.8L544.5 451.2L542.6 453.5L540.8 455.9L538.9 458.3L537 460.6L535 463L533.1 465.3L531.1 467.6L529.1 469.9L527.2 472.2L525.2 474.5L523.2 476.8L521.3 479.1L519.3 481.4L517.2 483.6L515.2 485.8L513.1 488L511.1 490.3L509 492.5L507 494.7L505 497L503 499.3L501.1 501.7L499.2 504L497.5 506.5L495.8 509L494.4 511.7L493.2 514.5" stroke="#0000ee" stroke-width="2.4" stroke-dasharray="8.2 6.3" stroke-dashoffset="0"/>
</g>
<rect x="376.5" y="333.5" width="119" height="30" fill="#fff" stroke="#333" stroke-width="1"/>
<path d="M378.7 341.6h20" stroke="#f00000" stroke-width="2.2" fill="none"/>
<path d="M378.7 355.4h20" stroke="#0000ee" stroke-width="2.3" stroke-dasharray="8.2 7" fill="none"/>
<g font-size="11.78" fill="#000" stroke="#000" stroke-width="0.12">
<text x="400" y="345.9">Experimental result</text>
<text x="400" y="359.4">Simulation result</text>
</g>
<text x="391" y="634.7" font-size="15.9" fill="#000" stroke="#000" stroke-width="0.15">(e) Comparison of results with condition 5</text>
</g>
<g id="panel-f">
<clipPath id="cpf"><rect x="369.5" y="669.5" width="315" height="270"/></clipPath>
<g fill="none" stroke="#5c5c5c" stroke-width="1">
<rect x="369.5" y="669.5" width="315" height="270" stroke="#9a9a9a"/>
<path d="M369.5 804.5H684.5M526.5 669.5V939.5"/>
<path d="M386.5 804.5v-3.5M421.5 804.5v-3.5M456.5 804.5v-3.5M491.5 804.5v-3.5M561.5 804.5v-3.5M596.5 804.5v-3.5M631.5 804.5v-3.5M666.5 804.5v-3.5M526.5 916.5h3.5M526.5 879.5h3.5M526.5 841.5h3.5M526.5 766.5h3.5M526.5 729.5h3.5M526.5 691.5h3.5"/>
</g>
<g font-size="12.57" fill="#000" stroke="#000" stroke-width="0.12">
<text x="385.4" y="820.3" text-anchor="middle">-8</text>
<text x="420.4" y="820.3" text-anchor="middle">-6</text>
<text x="455.4" y="820.3" text-anchor="middle">-4</text>
<text x="490.4" y="820.3" text-anchor="middle">-2</text>
<text x="561.6" y="820.3" text-anchor="middle">2</text>
<text x="596.6" y="820.3" text-anchor="middle">4</text>
<text x="631.6" y="820.3" text-anchor="middle">6</text>
<text x="666.6" y="820.3" text-anchor="middle">8</text>
<text x="523" y="921.1" text-anchor="end">-150</text>
<text x="523" y="883.6" text-anchor="end">-100</text>
<text x="523" y="846.2" text-anchor="end">-50</text>
<text x="523" y="771.2" text-anchor="end">50</text>
<text x="523" y="733.8" text-anchor="end">100</text>
<text x="523" y="696.4" text-anchor="end">150</text>
</g>
<g font-size="15.69" fill="#000" stroke="#000" stroke-width="0.15">
<text x="534" y="688">force/kN</text>
<text x="563.5" y="832.5">displacement/mm</text>
</g>
<g clip-path="url(#cpf)" fill="none" stroke-linejoin="round" stroke-linecap="butt">
<path d="M386.7 925.9L387 922.9L387.3 919.9L387.7 916.9L388.2 913.9L388.6 911L389.1 908L389.7 905L390.3 902.1L391.1 899.1L391.8 896.2L392.8 893.4L394.2 890.7L395.7 888.1L397.4 885.6L399.3 883.2L401.2 880.9L403.2 878.7L405.3 876.5L407.4 874.3L409.6 872.2L411.8 870.1L414 868.2L416.3 866.2L418.6 864.2L420.9 862.3L423.2 860.3L425.5 858.3L427.9 856.5L430.5 854.9L433 853.3L435.6 851.7L438.3 850.3L441 848.9L443.7 847.7L446.5 846.6L448 846.1" stroke="#f00000" stroke-width="2.1"/>
<path d="M666.4 674.8L666.7 677.7L666.7 680.7L666.4 683.7L666.1 686.6L665.8 689.6L665.5 692.6L664.9 695.5L664.2 698.4L663.3 701.3L662.2 704.1L660.9 706.8L659.4 709.3L657.8 711.9L656.1 714.4L654.4 716.8L652.7 719.3L650.9 721.7L649.1 724.1L647.3 726.5L645.5 728.9L643.6 731.3L641.8 733.6L639.9 735.9L637.9 738.2L635.8 740.3L633.5 742.3L631.2 744.2L628.8 746L626.4 747.8L624 749.6L621.6 751.3L619 752.9L616.5 754.5L613.9 756L611.3 757.6L608.7 759L606.1 760.5L603.4 761.8L600.7 763.1L598 764.3L595.1 765.4L592.3 766.3L589.5 767.2L586.6 768.2L583.8 769.3L581.1 770.5L578.4 771.9L575.8 773.4L573.3 775L570.8 776.6L568.4 778.5L566.2 780.4L564 782.5L561.9 784.6L559.9 786.9L557.9 789.1L555.9 791.4L554 793.7L552.1 796L550.2 798.3L548.3 800.6L546.4 803L544.5 805.2L542.5 807.5L540.5 809.7L538.4 811.9L536.3 814.1L534.2 816.2L532 818.2L529.7 820.2L527.5 822.2L525.4 824.4L523.4 826.6L521.4 828.8L519.5 831.1L517.5 833.4L515.6 835.7L513.7 838L511.7 840.3L509.8 842.5L507.7 844.7L505.6 846.8L503.4 849L501.3 851.1L499.2 853.2L497.1 855.3L495 857.5L492.9 859.6L490.9 861.8L488.8 864L486.8 866.2L484.8 868.4L482.7 870.6L480.6 872.8L478.5 874.9L476.4 877L474.4 879.3L472.5 881.6L470.6 883.9L468.6 886.1L466.4 888.2L464.1 890.1L461.7 891.8L459.2 893.5L456.7 895.2L454.1 896.6L451.4 897.9L448.6 899.2L445.9 900.5L443.2 901.7L440.5 902.9L437.7 904.1L435 905.3L432.2 906.6L429.5 907.9L426.8 909.1L424.1 910.4L421.4 911.7L418.6 912.9L415.9 914L413.1 915.2L410.3 916.4L407.5 917.5L404.8 918.6L402 919.7L399.2 920.8L396.4 922L393.6 923.1L390.8 924.2L388.1 925.4L386.7 925.9" stroke="#f00000" stroke-width="2.1"/>
<path d="M421.7 911.5L421.9 908.5L422.1 905.6L422.3 902.6L422.6 899.6L423 896.6L423.4 893.6L423.9 890.7L424.6 887.8L425.4 884.9L426.3 882L427.5 879.3L428.9 876.6L430.3 874L432.1 871.6L434 869.3L435.9 867L438 864.9L440.2 862.8L442.5 860.9L444.8 859L447.2 857.1L449.6 855.4L452.1 853.7L454.6 852.1L457.1 850.5L459.7 848.9L462.2 847.2L464.7 845.6L467.2 843.9L469.6 842.1L472 840.3L474.3 838.4L476.7 836.6L479 834.7L481.3 832.8L483.6 830.8L485.8 828.7L487.9 826.7L490.1 824.6L492.2 822.5L494.3 820.3L496.4 818.1L498.4 816L500.5 813.8L502.5 811.6L504.6 809.4L506.6 807.2L508.7 805L510.7 802.8L512.7 800.6L514.8 798.4L516.9 796.3L519 794.1L521.2 792L523.3 789.9L525.5 787.8L527.5 785.7L529.5 783.4L531.5 781.2L533.5 778.9L535.5 776.7L537.5 774.4L539.5 772.2L541.4 769.9L543.3 767.6L545.3 765.3L547.2 763L549.2 760.8L551.2 758.5L553.2 756.3L555.2 754.1L557.1 751.8L559 749.5L561 747.2L563 745L565.2 742.9L567.3 740.7L569.4 738.6L571.5 736.5L573.6 734.3L575.5 732.1L577.2 729.6L578.7 727L580.2 724.4L581.8 721.9L583.7 719.6L585.7 717.4L587.9 715.3L590.2 713.4L592.6 711.7L595.1 710.1L597.7 708.6L600.4 707.2L603.1 705.8L605.7 704.4L608.4 703.1L611.1 701.7L613.8 700.4L616.5 699L619.1 697.7L621.8 696.4L624.5 695.1L627.2 693.8L629.9 692.5L632.6 691.1L635.3 689.8L638 688.4L640.6 687L643.3 685.7L646 684.4L648.8 683.1L651.5 681.9L654.2 680.6L656.9 679.3L659.6 678L662.3 676.7L665 675.4L666.4 674.8" stroke="#f00000" stroke-width="2.1"/>
<path d="M492.2 823.7L494.3 821.6L496.4 819.4L498.4 817.2L500.5 815L502.6 812.8L504.6 810.6L506.7 808.4L508.7 806.2L510.7 804L512.7 801.7L514.8 799.6L516.9 797.4L519.1 795.3L521.2 793.2L523.4 791.1L525.5 789L527.7 786.9L529.7 784.7L531.7 782.4L533.7 780.2L535.7 777.9L537.7 775.7L539.7 773.4L541.6 771.2L543.6 768.9L545.5 766.6L547.4 764.3L549.4 762L551.4 759.7L553.4 757.5L555.4 755.3L557.4 753L559.3 750.7L561.3 748.4L563.3 746.2L565.3 744L567.5 741.9L569.6 739.7L571.7 737.6L573.8 735.5L575.9 733.3L577.6 730.9L579.2 728.3L580.8 725.8L582.4 723.2L584.2 720.9L586.3 718.7L588.4 716.6L590.7 714.6L593.1 712.9L595.6 711.2L598.2 709.7L600.8 708.2L603.5 706.9L606.2 705.5L608.8 704.1L611.5 702.8L614.2 701.4L616.9 700.1L619.6 698.8L622.3 697.4L625 696L627.6 694.6L630.2 693.2L631.6 692.4" stroke="#f00000" stroke-width="2.1"/>
<path d="M631.6 692L631.5 695L631.3 698L631.1 701L630.7 704L630.2 706.9L629.6 709.9L628.9 712.8L628 715.7L626.8 718.4L625.4 721.1L623.9 723.7L622.3 726.2L620.5 728.7L618.7 731.1L616.9 733.4L614.9 735.7L612.8 737.9L610.7 740L608.5 742.1L606.3 744.1L604 746.1L601.7 748.1L599.4 750L597.1 752L594.7 753.8L592.2 755.5L589.6 756.9L587 758.4L584.4 760L582 761.8L579.7 763.7L577.4 765.7L575.1 767.7L572.9 769.7L570.7 771.7L568.5 773.8L566.4 776L564.3 778.1L562.2 780.3L560.2 782.5L558.2 784.8L556.1 787L554.1 789.3L552.1 791.5L550.2 793.8L548.2 796.1L546.2 798.4L544.3 800.7L542.4 803L540.5 805.4L538.6 807.7L536.8 810.1L534.9 812.4L532.9 814.7L530.9 817L528.9 819.2L526.9 821.5L524.8 823.7L522.7 825.8L520.6 828L518.6 830.2L516.6 832.5L514.7 834.8L512.7 837.1L510.8 839.4L508.8 841.6L506.7 843.8L504.6 846L502.4 848.1L500.3 850.2L498.2 852.4L496.1 854.5L494 856.7L491.9 858.8L489.8 861L487.8 863.2L485.7 865.5L483.7 867.7L481.6 869.9L479.5 872.1L477.4 874.2L475.4 876.4L473.5 878.8L471.6 881.1L469.7 883.5L467.7 885.7L465.6 887.8L463.2 889.7L460.8 891.5L458.4 893.2L455.8 894.8L453.1 896.2L450.4 897.5L447.7 898.9L445 900.2L442.3 901.4L439.5 902.6L436.8 903.8L434 905.1L431.3 906.3L428.5 907.6L425.8 908.9L423.1 910.2L421.7 910.8" stroke="#f00000" stroke-width="2.1"/>
<path d="M457.2 894.1L457.4 891.1L457.5 888.1L457.8 885.1L458.1 882.1L458.5 879.2L458.9 876.2L459.5 873.2L460.2 870.3L460.9 867.4L461.8 864.6L463.1 861.9L464.8 859.5L466.7 857.2L468.7 855L470.8 852.8L473 850.7L475.1 848.6L477.2 846.5L479.3 844.3L481.4 842.2L483.5 840L485.5 837.7L487.4 835.5L489.4 833.2L491.4 830.9L493.3 828.6L495.3 826.4L497.2 824.1L499.2 821.8L501.2 819.5L503.1 817.2L505 814.9L506.9 812.6L508.8 810.3L510.7 807.9L512.7 805.6L514.6 803.3L516.6 801.1L518.5 798.8L520.5 796.5L522.5 794.3L524.4 792L526.3 789.6L528.3 787.4L530.3 785.2L532.4 783L534.4 780.8L536.4 778.5L538.4 776.3L540.4 774L542.4 771.8L544.4 769.5L546.3 767.2L548.2 764.9L550.2 762.6L552.2 760.4L554.2 758.1L556.2 755.9L558.2 753.6L560.1 751.3L562 749L564 746.8L566.1 744.6L568.2 742.4L570.3 740.3L572.4 738.2L574.5 736.1L576.6 733.9L578.5 731.5L580 729L581.5 726.4L583.1 723.9L584.9 721.5L587 719.4L589.1 717.2L591.4 715.2L593.7 713.3L596 711.5" stroke="#f00000" stroke-width="2.1"/>
<path d="M596 711.5L595.9 714.5L595.7 717.5L595.5 720.5L595 723.4L594.4 726.4L593.8 729.3L592.9 732.2L591.7 734.9L590.4 737.6L588.7 740L586.5 741.9L584 743.6L581.6 745.4L579.2 747.3L576.9 749.2L574.7 751.2L572.5 753.3L570.4 755.4L568.3 757.6L566.2 759.7L564.2 762L562.2 764.2L560.2 766.5L558.4 768.9L556.5 771.3L554.8 773.7L553.1 776.2L551.6 778.8L550.2 781.5L548.6 784L547 786.6L545.4 789.1L543.8 791.7L542.2 794.2L540.7 796.8L539.1 799.4L537.6 802L536 804.6L534.5 807.2L533 809.7L531.4 812.3L529.9 814.9L528.3 817.5L526.6 820L524.7 822.2L522.6 824.4L520.4 826.5L518.3 828.6L516.3 830.8L514.3 833.1L512.4 835.4L510.5 837.7L508.5 840L506.4 842.2L504.3 844.3L502.2 846.5L500.1 848.6L497.9 850.7L495.8 852.9L493.7 855L491.6 857.2L489.5 859.4L487.5 861.6L485.5 863.8L483.4 866L481.4 868.2L479.3 870.4L477.1 872.5L474.9 874.5L472.7 876.5L470.5 878.6L468.3 880.7L466.3 882.8L464.6 885.2L463.3 887.8L461.7 890.2L459.6 892.2L457.2 894.1" stroke="#f00000" stroke-width="2.1"/>
<path d="M491.8 856.8L492.1 853.8L492.4 850.8L492.8 847.8L493.2 844.8L493.8 841.9L494.5 838.9L495.4 836.1L496.5 833.3L497.8 830.5L499.3 828L501 825.5L502.8 823L504.6 820.6L506.4 818.2L508.3 815.8L510.2 813.5L512.1 811.1L513.9 808.7L515.8 806.4L517.7 804L519.6 801.7L521.5 799.3L523.3 796.9L525.2 794.5L527.1 792.2L529 789.9L531 787.6L533 785.3L535 783L536.9 780.7L538.9 778.5L540.9 776.2L542.9 773.9L544.9 771.7L546.9 769.4L548.8 767L550.7 764.7L552.6 762.4L554.5 760L556.3 757.6L558.2 755.2L559.1 754" stroke="#f00000" stroke-width="2.1"/>
<path d="M559.1 754L559 757.1L558.9 760.1L558.7 763.1L558.3 766.1L557.5 769L556.6 771.9L555.6 774.7L554.4 777.5L553.2 780.3L551.9 783L550.3 785.6L548.6 788.1L546.8 790.5L545 792.9L543.2 795.3L541.3 797.7L539.4 800.1L537.6 802.5L535.8 804.9L534 807.4L532.2 809.8L530.5 812.3L528.8 814.8L527 817.3L525.1 819.6L523 821.8L520.9 823.9L518.8 826.1L516.7 828.3L514.7 830.6L512.7 832.9L510.7 835.1L508.7 837.4L506.7 839.7L504.6 841.9L502.6 844.1L500.5 846.3L498.5 848.6L496.5 850.8L494.6 853.2L492.8 855.6L491.8 856.8" stroke="#f00000" stroke-width="2.1"/>
<path d="M526.6 804.5L526.6 789.5" stroke="#0000ee" stroke-width="2.4" stroke-dasharray="8.2 6.3" stroke-dashoffset="2"/>
<path d="M387.6 924.8L388.2 921.8L388.7 918.9L389.3 915.9L389.9 913L390.5 910L391.1 907.1L391.7 904.2L392.5 901.3L393.3 898.4L394.2 895.5L395.4 892.8L396.8 890.2L398.4 887.6L400.1 885.1L402 882.8L403.9 880.5L405.9 878.3L408.1 876.3L410.4 874.3L412.7 872.4L415 870.5L417.4 868.7L419.9 867L422.3 865.3L424.8 863.6L427.4 862L429.9 860.4L432.5 858.9L435.1 857.4L437.8 856L440.4 854.6L443.1 853.2L445.7 851.8L448.4 850.4L451 848.9L453.5 847.2L455.9 845.5L458.3 843.7L460.7 841.9L463.1 840.1L465.5 838.3L468 836.7L470.6 835.1L473.1 833.5L475.6 831.8L478.1 830.2L480.6 828.5L483 826.7L485.4 824.8L487.7 822.9L490 821L492.2 819L494.5 817L496.7 815L498.9 813L501 810.8L503.1 808.7L505.1 806.5L507.2 804.3L509.2 802.1L511.2 799.8L513.3 797.6L515.3 795.5L517.5 793.4L519.6 791.2L521.7 789.1L523.9 787.1L526 785L528.1 782.8L530.2 780.7L532.3 778.5L534.4 776.4L536.4 774.2L538.5 772L540.5 769.8L542.6 767.6L544.6 765.3L546.6 763.1L548.6 760.9L550.6 758.7L552.7 756.5L554.7 754.2L556.7 752L558.7 749.7L560.7 747.5L562.7 745.3L564.8 743.2L567 741.1L569.1 739L571.3 736.9L573.5 734.9L575.7 732.8L577.9 730.8L580.1 728.7L582.2 726.6L584.3 724.5L586.3 722.2L588.3 720L590.4 717.9L592.8 716.2L595.3 714.5L597.8 712.9L600.4 711.3L602.9 709.7L605.5 708.1L608.1 706.7L610.8 705.4L613.5 704L616.2 702.7L618.8 701.3L621.5 700L624.2 698.7L626.9 697.4L629.7 696.1L632.4 694.9L635.2 693.7L637.9 692.6L640.7 691.4L643.5 690.3L646.3 689.1L649 688L651.8 686.9L654.6 685.8L657.4 684.8L660.3 683.8L663.1 682.8L665.9 681.7" stroke="#0000ee" stroke-width="2.4" stroke-dasharray="8.2 6.3"/>
<path d="M665.9 681.7L666 684.7L666.1 687.8L666 690.8L665.9 693.8L665.8 696.8L665.6 699.8L665.5 702.8L665.1 705.7L664.5 708.7L663.7 711.6L662.7 714.4L661.4 717.1L660 719.7L658.5 722.3L656.6 724.6L654.7 726.9L652.7 729.2L650.5 731.2L648.2 733.2L645.9 735.1L643.5 736.8L641 738.5L638.5 740.2L635.9 741.7L633.3 743.2L630.6 744.6L628 746.1L625.3 747.5L622.7 748.9L620 750.2L617.3 751.6L614.6 752.9L611.9 754.2L609.2 755.6L606.5 756.9L603.8 758.1L601 759.1L598.2 760.2L595.4 761.4L592.6 762.6L589.9 763.9L587.2 765.2L584.6 766.7L582 768.1L579.3 769.6L576.7 771.1L574.2 772.7L571.6 774.2L569.1 775.8L566.5 777.3L563.9 778.8L561.3 780.4L558.9 782.2L556.5 784L554.2 786L552.2 788.1L550.1 790.3L548.1 792.5L546.1 794.8L544.1 797L542.1 799.3L540.2 801.6L538.3 803.9L536.4 806.3L534.6 808.6L532.7 811L530.9 813.4L529.1 815.8L527.2 818.2L525.3 820.5L523.3 822.7L521.4 825L519.4 827.2L517.4 829.5L515.5 831.8L513.6 834.1L511.6 836.4L509.7 838.7L507.7 841L505.6 843.1L503.4 845.2L501.3 847.3L499.2 849.5L497.1 851.6L495 853.7L492.9 855.9L490.8 858.1L488.7 860.3L486.7 862.5L484.7 864.7L482.6 866.9L480.6 869.1L478.5 871.3L476.5 873.5L474.7 875.9L473 878.4L471.4 880.9L469.8 883.5L468.1 885.9L466.2 888.2L463.9 890.1L461.5 891.9L459 893.7L456.5 895.3L453.9 896.8L451.3 898.2L448.6 899.6L445.9 900.9L443.2 902.3L440.6 903.6L437.9 905L435.2 906.3L432.5 907.6L429.8 908.9L427 910.2L424.3 911.5L421.6 912.7L418.8 913.8L415.9 914.8L413.1 915.8L410.3 916.8L407.5 917.9L404.6 918.9L401.8 919.9L399 920.9L396.1 921.9L393.3 922.8L390.5 923.8L387.6 924.8" stroke="#0000ee" stroke-width="2.4" stroke-dasharray="8.2 6.3" stroke-dashoffset="3"/>
<path d="M426.6 910.8L427.2 907.9L427.9 905L428.5 902L429.1 899.1L429.7 896.2L430.3 893.2L430.9 890.3L431.7 887.4L432.4 884.5L433.3 881.6L434.3 878.8L435.3 876L436.6 873.3L438.4 870.9L440.3 868.6L442.3 866.3L444.4 864.2L446.6 862.1L448.7 860L450.8 857.9L452.9 855.7L455 853.6L457.2 851.6L459.6 849.7L462 847.9L464.4 846.1L466.8 844.3L469.2 842.5L471.6 840.7L474 838.9L476.3 837.1L478.7 835.2L481 833.3L483.4 831.4L485.7 829.6L488 827.7L490.3 825.7L492.4 823.6L494.2 821.2L495.9 818.7L497.6 816.2L499.3 813.8L501.2 811.5L503.3 809.3L505.3 807.1L507.4 804.9L509.4 802.7L511.4 800.5L513.4 798.3L515.5 796.1L517.6 794L519.8 791.9L521.9 789.8L524.1 787.7L526.2 785.6L528.3 783.4L530.4 781.3L532.5 779.1L534.6 777L536.6 774.8L538.7 772.6L540.7 770.4L542.8 768.2L544.8 766L546.8 763.7L548.8 761.5L550.9 759.3L552.9 757.1L554.9 754.8L556.9 752.6L558.9 750.3L560.9 748.1L562.9 745.9L565 743.8L567.2 741.7L569.3 739.6L571.5 737.5L573.7 735.5L575.9 733.4L578.1 731.4L580.3 729.3L582.4 727.2L584.6 725.1L586.6 722.9L588.6 720.7L590.7 718.6L593.1 716.9L595.6 715.2L598.1 713.5L600.6 711.9L603.2 710.3L605.7 708.7L608.4 707.3L611.1 705.9L613.7 704.6L616.4 703.2L619.1 701.9L621.8 700.6L624.5 699.2L627.1 697.8L629.8 696.4L631.1 695.7" stroke="#0000ee" stroke-width="2.4" stroke-dasharray="8.2 6.3" stroke-dashoffset="5"/>
<path d="M631.1 695.7L631 698.7L630.9 701.7L630.8 704.7L630.5 707.7L630.2 710.7L629.8 713.6L629.1 716.6L628.3 719.4L627.3 722.3L625.9 724.9L624.4 727.5L622.8 730L620.9 732.4L619 734.7L617 737L614.9 739.1L612.6 741.1L610.3 743L608 744.9L605.7 746.8L603.4 748.8L601.2 750.9L599 752.9L596.8 754.9L594.5 756.8L592.1 758.6L589.5 760.2L587 761.9L584.5 763.5L582 765.2L579.5 766.9L577 768.6L574.6 770.3L572.1 772L569.6 773.8L567.2 775.5L564.8 777.3L562.4 779.1L560 781L557.7 782.9L555.5 784.9L553.4 787.1L551.4 789.3L549.4 791.6L547.4 793.8L545.4 796.1L543.5 798.4L541.6 800.7L539.7 803.1L537.8 805.4L536 807.8L534.1 810.1L532.3 812.5L530.4 814.9L528.6 817.3L526.7 819.6L524.8 821.9L522.8 824.2L520.8 826.4L518.8 828.7L516.9 831L515 833.3L513 835.6L511.1 837.9L509.1 840.2L507.1 842.4L504.9 844.5L502.8 846.6L500.7 848.8L498.6 850.9L496.4 853L494.3 855.2L492.3 857.3L490.2 859.5L488.1 861.7L486.1 863.9L484.1 866.2L482 868.4L480 870.6L477.9 872.7L475.9 875L474.1 877.4L472.4 879.8L470.7 882.3L468.9 884.8L467 887L464.8 889.1L462.4 890.9L460 892.7" stroke="#0000ee" stroke-width="2.4" stroke-dasharray="8.2 6.3" stroke-dashoffset="1"/>
<path d="M459.1 895.3L459.4 892.3L459.6 889.3L459.9 886.3L460.2 883.3L460.5 880.4L460.8 877.4L461.1 874.4L461.7 871.5L462.5 868.6L463.3 865.7L464.2 862.8L465.6 860.2L467.4 857.9L469.4 855.6L471.4 853.4L473.5 851.3L475.7 849.1L477.7 847L479.7 844.7L481.7 842.5L483.7 840.3L485.7 838L487.6 835.7L489.5 833.4L491.3 831L492.7 828.4L494.1 825.7L495.4 823L496.7 820.3L498.1 817.6L499.5 815L501.1 812.5L503.1 810.3L505.2 808.1L507.2 805.9L509.2 803.7L511.3 801.4L513.3 799.2L515.4 797.1L517.5 794.9L519.6 792.8L521.7 790.7L523.9 788.6L526.1 786.5L528.2 784.4L530.3 782.3L532.4 780.1L534.4 777.9L536.5 775.8L538.5 773.6L540.6 771.4L542.6 769.2L544.6 766.9L546.7 764.7L548.7 762.5L550.7 760.3L552.7 758.1L554.7 755.8L556.7 753.6L558.7 751.4L560.7 749.1L562.7 746.9L564.8 744.8L567 742.6L569.1 740.5L571.3 738.5L573.5 736.4L575.7 734.4L577.9 732.3L580.1 730.3L582.3 728.2L584.4 726.2L586.5 724L588.5 721.8L590.5 719.6L592.6 717.4L594.8 715.3L595.8 714.2" stroke="#0000ee" stroke-width="2.4" stroke-dasharray="8.2 6.3" stroke-dashoffset="6"/>
<path d="M595.8 714.2L595.7 717.3L595.6 720.3L595.5 723.3L595.1 726.3L594.8 729.3L594.3 732.2L593.7 735.2L592.8 738.1L591.8 740.9L590.5 743.6L589.2 746.3L587.6 748.8L585.6 751.1L583.6 753.4L581.6 755.6L579.5 757.7L577.3 759.9L575.2 762L573.1 764.1L570.9 766.3L568.8 768.4L566.7 770.5L564.5 772.7L562.4 774.8L560.3 777L558.3 779.2L556.3 781.5L554.3 783.7L552.4 786.1L550.6 788.5L548.8 790.9L546.9 793.2L544.9 795.5L542.9 797.7L540.9 800L538.9 802.3L537 804.6L535.2 807L533.3 809.4L531.5 811.8L529.6 814.2L527.8 816.6L525.9 818.9L524 821.2L522 823.5L520 825.7L518 828L516 830.3L514.1 832.6L512.2 834.9L510.2 837.2L508.3 839.5L506.2 841.7L504 843.8L501.9 845.9L499.8 848.1L497.6 850.2L495.5 852.4L493.4 854.5L491.3 856.7L489.3 858.9L487.2 861.1L485.2 863.3L483.1 865.5L481.1 867.8L479 869.9L476.8 872L474.6 874L472.3 876L470.1 878.1L467.9 880.2L465.8 882.3L464.3 884.7L463.5 887.6L462.5 890.3L460.9 892.9L459.1 895.3" stroke="#0000ee" stroke-width="2.4" stroke-dasharray="8.2 6.3" stroke-dashoffset="2"/>
<path d="M493.7 853.3L494 850.3L494.2 847.3L494.5 844.3L494.9 841.4L495.3 838.4L495.7 835.4L496.4 832.5L497.2 829.6L498.4 826.9L499.9 824.4L501.6 821.9L503.5 819.6L505.5 817.3L507.4 815L509.4 812.7L511.3 810.5L513.3 808.2L515.2 805.9L517.2 803.6L519.1 801.3L521.1 799.1L523.1 796.8L525 794.5L527 792.3L529 790L530.9 787.8L532.9 785.5L534.9 783.3L536.9 781L539 778.8L541 776.6L543 774.4L544.9 772.1L546.9 769.9L548.9 767.6L550.9 765.3L552.8 763L554.8 760.8L556.8 758.5L558.8 756.3L560.8 754" stroke="#0000ee" stroke-width="2.4" stroke-dasharray="8.2 6.3" stroke-dashoffset="5"/>
<path d="M560.8 754L560.6 757.1L560.4 760.1L560.2 763.1L559.8 766.1L559.3 769.1L558.7 772.1L557.9 775L557 777.9L555.7 780.6L554 783.1L552 785.4L550.1 787.7L548.1 790L546.1 792.3L544.2 794.7L542.2 797L540.3 799.4L538.4 801.7L536.5 804.1L534.7 806.5L532.8 808.9L531 811.4L529.2 813.8L527.3 816.2L525.4 818.5L523.4 820.8L521.4 823.1L519.4 825.3L517.3 827.6L515.3 829.9L513.4 832.2L511.4 834.5L509.4 836.8L507.4 839.1L505.3 841.3L503.3 843.6L501.2 845.8L499 847.9L496.9 850L494.8 852.2L493.7 853.3" stroke="#0000ee" stroke-width="2.4" stroke-dasharray="8.2 6.3" stroke-dashoffset="0"/>
</g>
<rect x="374.5" y="674.5" width="119" height="30" fill="#fff" stroke="#333" stroke-width="1"/>
<path d="M376.7 682.6h20" stroke="#f00000" stroke-width="2.2" fill="none"/>
<path d="M376.7 696.4h20" stroke="#0000ee" stroke-width="2.3" stroke-dasharray="8.2 7" fill="none"/>
<g font-size="11.87" fill="#000" stroke="#000" stroke-width="0.12">
<text x="398" y="686.9">Experimental result</text>
<text x="398" y="700.4">Simulation result</text>
</g>
<text x="392" y="971" font-size="15.9" fill="#000" stroke="#000" stroke-width="0.15">(f) Comparison of results with condition 6</text>
</g>
</svg>
</body></html>
